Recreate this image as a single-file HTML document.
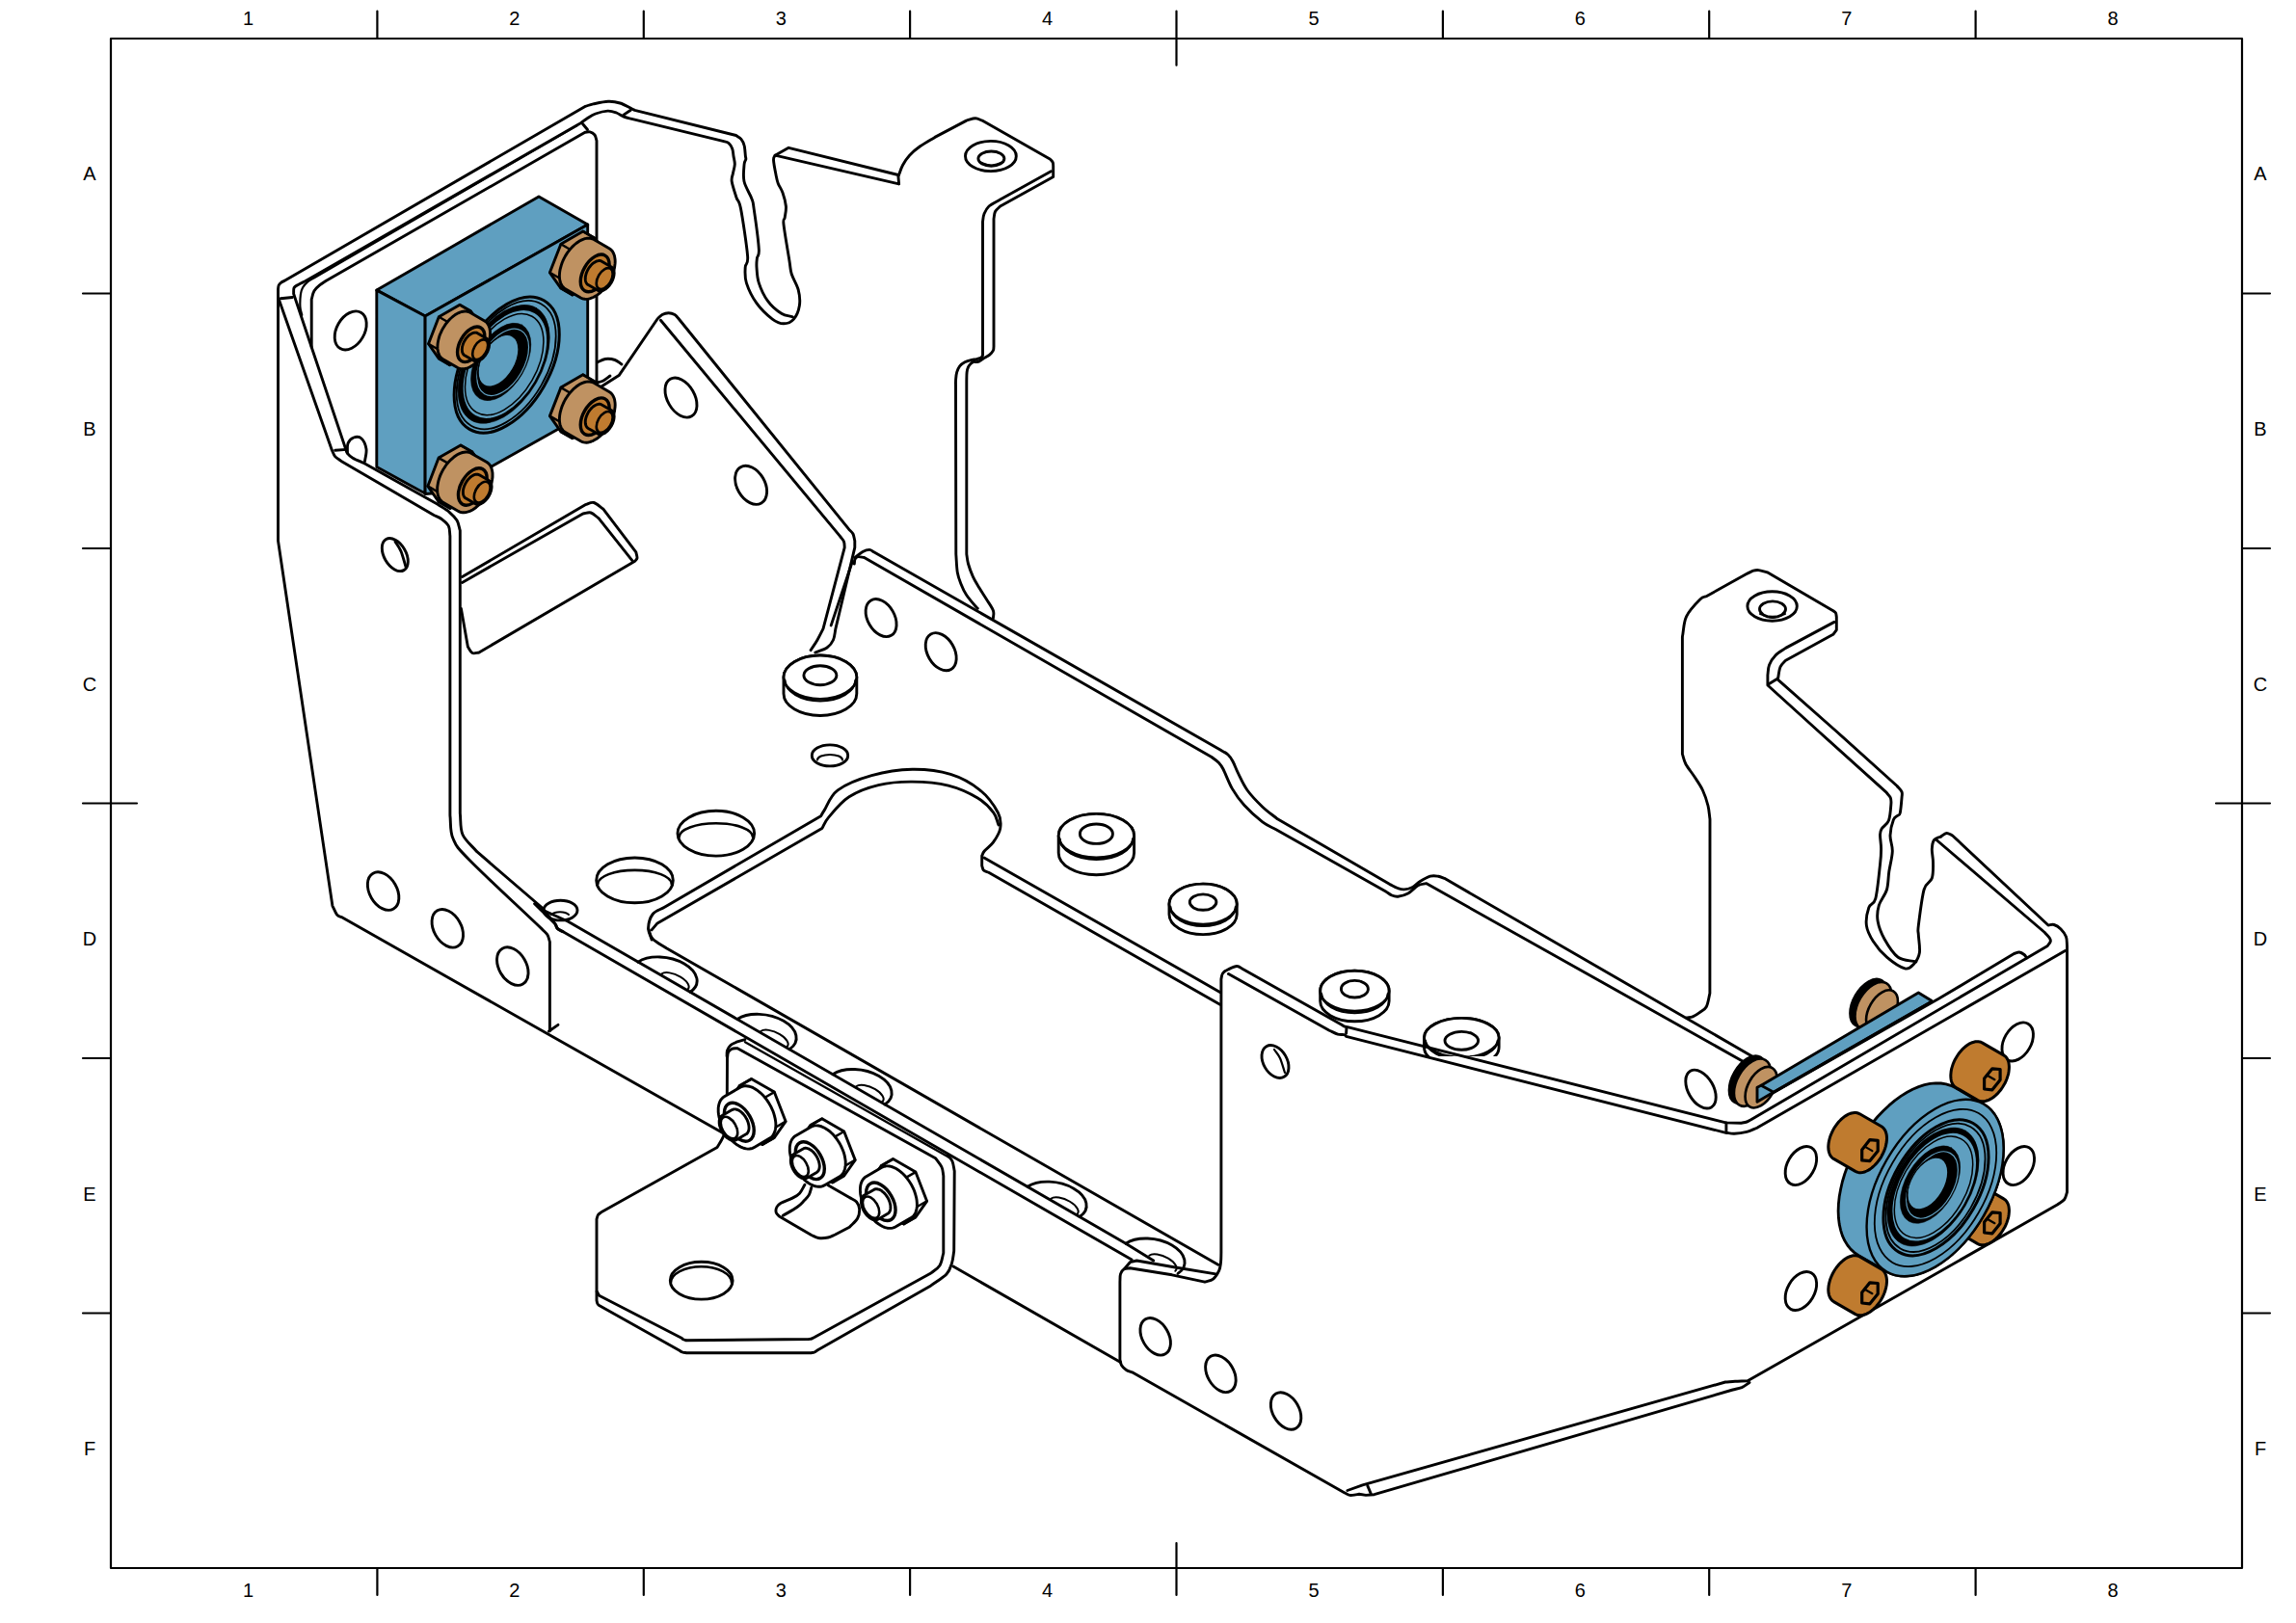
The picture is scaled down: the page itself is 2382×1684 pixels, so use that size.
<!DOCTYPE html>
<html><head><meta charset="utf-8"><title>Drawing</title><style>html,body{margin:0;padding:0;background:#fff;width:2382px;height:1684px;overflow:hidden}svg{display:block}</style></head><body>
<svg xmlns="http://www.w3.org/2000/svg" width="2382" height="1684" viewBox="0 0 2382 1684" stroke-linecap="round" stroke-linejoin="round">
<rect x="115" y="40" width="2211" height="1587" fill="none" stroke="#000" stroke-width="2.2"/>
<path d="M391.4,11.5V40M391.4,1627V1655" stroke="#000" stroke-width="2.2"/>
<path d="M667.8,11.5V40M667.8,1627V1655" stroke="#000" stroke-width="2.2"/>
<path d="M944.1,11.5V40M944.1,1627V1655" stroke="#000" stroke-width="2.2"/>
<path d="M1220.5,11.5V67.7M1220.5,1601V1655" stroke="#000" stroke-width="2.2"/>
<path d="M1496.9,11.5V40M1496.9,1627V1655" stroke="#000" stroke-width="2.2"/>
<path d="M1773.2,11.5V40M1773.2,1627V1655" stroke="#000" stroke-width="2.2"/>
<path d="M2049.6,11.5V40M2049.6,1627V1655" stroke="#000" stroke-width="2.2"/>
<path d="M86,304.5H115M2326,304.5H2355" stroke="#000" stroke-width="2.2"/>
<path d="M86,569.0H115M2326,569.0H2355" stroke="#000" stroke-width="2.2"/>
<path d="M86,833.5H142M2299,833.5H2355" stroke="#000" stroke-width="2.2"/>
<path d="M86,1098.0H115M2326,1098.0H2355" stroke="#000" stroke-width="2.2"/>
<path d="M86,1362.5H115M2326,1362.5H2355" stroke="#000" stroke-width="2.2"/>
<text x="257.5" y="26" font-family="Liberation Sans, sans-serif" font-size="20" text-anchor="middle">1</text>
<text x="257.5" y="1656.5" font-family="Liberation Sans, sans-serif" font-size="20" text-anchor="middle">1</text>
<text x="533.9" y="26" font-family="Liberation Sans, sans-serif" font-size="20" text-anchor="middle">2</text>
<text x="533.9" y="1656.5" font-family="Liberation Sans, sans-serif" font-size="20" text-anchor="middle">2</text>
<text x="810.2" y="26" font-family="Liberation Sans, sans-serif" font-size="20" text-anchor="middle">3</text>
<text x="810.2" y="1656.5" font-family="Liberation Sans, sans-serif" font-size="20" text-anchor="middle">3</text>
<text x="1086.6" y="26" font-family="Liberation Sans, sans-serif" font-size="20" text-anchor="middle">4</text>
<text x="1086.6" y="1656.5" font-family="Liberation Sans, sans-serif" font-size="20" text-anchor="middle">4</text>
<text x="1363.0" y="26" font-family="Liberation Sans, sans-serif" font-size="20" text-anchor="middle">5</text>
<text x="1363.0" y="1656.5" font-family="Liberation Sans, sans-serif" font-size="20" text-anchor="middle">5</text>
<text x="1639.4" y="26" font-family="Liberation Sans, sans-serif" font-size="20" text-anchor="middle">6</text>
<text x="1639.4" y="1656.5" font-family="Liberation Sans, sans-serif" font-size="20" text-anchor="middle">6</text>
<text x="1915.7" y="26" font-family="Liberation Sans, sans-serif" font-size="20" text-anchor="middle">7</text>
<text x="1915.7" y="1656.5" font-family="Liberation Sans, sans-serif" font-size="20" text-anchor="middle">7</text>
<text x="2192.1" y="26" font-family="Liberation Sans, sans-serif" font-size="20" text-anchor="middle">8</text>
<text x="2192.1" y="1656.5" font-family="Liberation Sans, sans-serif" font-size="20" text-anchor="middle">8</text>
<text x="93" y="187.4" font-family="Liberation Sans, sans-serif" font-size="20" text-anchor="middle">A</text>
<text x="2345" y="187.4" font-family="Liberation Sans, sans-serif" font-size="20" text-anchor="middle">A</text>
<text x="93" y="451.9" font-family="Liberation Sans, sans-serif" font-size="20" text-anchor="middle">B</text>
<text x="2345" y="451.9" font-family="Liberation Sans, sans-serif" font-size="20" text-anchor="middle">B</text>
<text x="93" y="716.5" font-family="Liberation Sans, sans-serif" font-size="20" text-anchor="middle">C</text>
<text x="2345" y="716.5" font-family="Liberation Sans, sans-serif" font-size="20" text-anchor="middle">C</text>
<text x="93" y="981.0" font-family="Liberation Sans, sans-serif" font-size="20" text-anchor="middle">D</text>
<text x="2345" y="981.0" font-family="Liberation Sans, sans-serif" font-size="20" text-anchor="middle">D</text>
<text x="93" y="1245.5" font-family="Liberation Sans, sans-serif" font-size="20" text-anchor="middle">E</text>
<text x="2345" y="1245.5" font-family="Liberation Sans, sans-serif" font-size="20" text-anchor="middle">E</text>
<text x="93" y="1510.0" font-family="Liberation Sans, sans-serif" font-size="20" text-anchor="middle">F</text>
<text x="2345" y="1510.0" font-family="Liberation Sans, sans-serif" font-size="20" text-anchor="middle">F</text>
<path d="M749,1175L566,1071.5L354.3,951.6C352.7,950.8 351.2,951.2 349.6,949.2C348,947.2 346.5,942.9 344.9,939.8L288.5,561L288.5,300C288.7,298.7 288.7,297.1 289.2,296C289.7,294.9 290.4,294.1 291.5,293.3C292.6,292.5 294.3,291.8 295.7,291L607.4,110.3C610.1,109.5 611.6,108.7 615.5,107.9C619.4,107.1 626.3,105.5 630.9,105.3C635.5,105.1 639.1,105.7 643.3,107C647.5,108.3 651.9,111.1 656.2,113.2L658.5,114.4L763.6,140.5C765.4,141.8 767.5,142.7 768.9,144.4C770.3,146.1 771.4,148 772.1,150.9C772.9,153.8 773.1,159.6 773.4,162C773.7,164.4 774,163.9 773.8,165.3C773.6,166.7 772.4,166.7 772.1,170.5C771.8,174.3 770.7,182.4 772,188.3C773.3,194.2 778.1,201.2 779.8,205.9C781.5,210.6 780.9,207.6 782.1,216.4C783.4,225.2 786.8,249.9 787.3,258.5C787.8,267.1 785.8,264.8 785.4,267.9C785,271 784.7,273 785,277.3C785.3,281.6 785.4,287.8 787.3,293.6C789.2,299.5 792.7,307.1 796.6,312.4C800.5,317.7 806.4,322.6 810.7,325.3C815,328 818.5,327.6 822.4,328.8" fill="none" stroke="#000" stroke-width="2.9"/>
<path d="M584.2,966.8C582.2,965.7 579.7,964.8 578.3,963.4C576.9,962 578.5,962 575.8,958.4C573.1,954.8 566.6,947.1 562,941.5L494.8,883.7C489.9,877.8 482.9,872.6 480,866C477.1,859.4 478.2,851.3 477.3,843.9L477.3,550.5C476.2,547 476,543.3 474.1,540.1C472.2,536.9 469.4,534.1 466.1,531.3C462.8,528.5 458.1,526 454.1,523.3L378,480.8C374,478.9 368.9,476.9 366,475.2C363.1,473.5 361.6,471.9 360.4,470.4C359.2,468.9 359.3,467.6 358.8,466.2L304.6,304.8C304.8,302.7 304.3,300.1 305.1,298.5C305.9,296.9 307.4,296.5 309.3,295.4C311.2,294.3 314.2,293 316.6,291.8L601.1,128.5C603.7,126.7 606.2,124.8 609,123C611.8,121.2 614.3,119.3 617.9,118C621.5,116.7 626.8,115.3 630.4,115.1C634,114.9 636.8,116 639.5,117C642.2,118 644.4,119.9 646.7,120.9C649,121.9 651.1,122.2 653.3,122.9L749.9,146.4C751.9,147 754.2,147 755.8,148.3C757.4,149.6 758.8,151.9 759.7,154.2C760.6,156.5 760.6,159.3 761,162C761.4,164.7 762.4,167.5 762.3,170.5C762.2,173.5 760.9,177 760.4,180C759.9,183 758.6,184.2 759.2,188.3C759.8,192.4 762.4,200 763.9,204.7C765.4,209.4 766.5,206.2 768.5,216.4C770.5,226.6 774.8,255.5 775.6,265.6C776.4,275.8 773.4,272.6 773.2,277.3C773,282 772.4,287.4 774.4,293.6C776.4,299.8 780.5,308.4 785,314.7C789.5,320.9 796.6,327.6 801.3,331.1C806,334.6 809.3,335.8 813,335.8C816.7,335.8 820.8,334.2 823.5,331.1C826.2,328 828.6,322.1 829.4,317C830.2,311.9 829.6,306.1 828.2,300.7C826.8,295.2 822.8,289.4 821.2,284.3C819.7,279.2 820.3,278.8 818.9,270.2C817.5,261.6 813.8,240.2 813,232.8C812.2,225.4 813.8,228.9 814.2,225.8C814.6,222.7 815.8,218.3 815.4,214C815,209.7 813.4,204 812,200C810.6,196 808.4,193.4 807.2,190.2C806,187 805.7,184.9 804.9,180.8C804.1,176.8 802.6,169.2 802.5,165.9C802.4,162.6 803.6,162.8 804.1,161.2L932.6,190.9" fill="none" stroke="#000" stroke-width="2.9"/>
<path d="M313.3,327C312.7,324.1 311.6,322 311.4,318.4C311.2,314.8 311.5,308.6 311.9,305.3C312.3,302 312.8,300.7 314,298.5C315.2,296.3 317.2,294 319.2,292.3C321.2,290.6 323.7,289.6 326,288.2L599,130" fill="none" stroke="#000" stroke-width="2.2"/>
<path d="M646.7,119.4L654.3,114.2" fill="none" stroke="#000" stroke-width="2.9"/>
<path d="M804.1,161.2L818.2,153.3L931.8,181.5L932.6,190.9" fill="none" stroke="#000" stroke-width="2.9"/>
<path d="M289.9,312.2L344.4,467.2C345.5,469.3 346,471.7 347.6,473.6C349.2,475.5 351.9,476.8 354,478.4L450.1,534.5C452.8,535.8 455.6,536.6 458.1,538.5C460.6,540.4 463.8,542.8 465.3,545.7C466.8,548.6 466.4,552.6 466.9,556.1L466.9,846C467.9,854 466.5,862.2 470,870C473.5,877.8 472.2,877.3 487.7,893C503.1,908.7 537.7,940.6 562.7,964.4C564.5,966.3 566.7,967.9 568,970C569.3,972.1 569.6,974.9 570.4,977.3L570.4,1069.8" fill="none" stroke="#000" stroke-width="2.9"/>
<path d="M347.6,467.2L359.6,466.4" fill="none" stroke="#000" stroke-width="2.9"/>
<path d="M323.2,360L323.2,310.6C324.1,307.6 324.5,304.2 326,301.7C327.5,299.2 330.3,297.1 332.3,295.4C334.3,293.7 336.1,292.8 338,291.5L607,137.3C608.7,137.1 610.3,136.4 612,136.8C613.7,137.2 615.8,138.5 617,140C618.2,141.5 618.3,144 619,146L619,396.6" fill="none" stroke="#000" stroke-width="2.9"/>
<path d="M604.5,128.5L609.5,134.5" fill="none" stroke="#000" stroke-width="2.9"/>
<path d="M291.1,309.7L303.4,308.5" fill="none" stroke="#000" stroke-width="2.9"/>
<path d="M569.4,1070L579,1063.4" fill="none" stroke="#000" stroke-width="2.9"/>
<ellipse cx="397.6" cy="924.6" rx="21.29" ry="14.18" transform="rotate(60 397.6 924.6)" fill="none" stroke="#000" stroke-width="2.9"/>
<ellipse cx="464.3" cy="963.3" rx="21.29" ry="14.18" transform="rotate(60 464.3 963.3)" fill="none" stroke="#000" stroke-width="2.9"/>
<ellipse cx="531.8" cy="1002.6" rx="21.29" ry="14.18" transform="rotate(60 531.8 1002.6)" fill="none" stroke="#000" stroke-width="2.9"/>
<ellipse cx="409.8" cy="575.6" rx="18.50" ry="11.35" transform="rotate(60 409.8 575.6)" fill="none" stroke="#000" stroke-width="2.9"/>
<path d="M410,562C412,565.3 414.2,567.7 416,572C417.8,576.3 419.3,582.7 421,588" fill="none" stroke="#000" stroke-width="2.9"/>
<ellipse cx="363.7" cy="342.9" rx="21.54" ry="14.44" transform="rotate(-60 363.7 342.9)" fill="none" stroke="#000" stroke-width="2.9"/>
<path d="M360.4,470C360.6,466.7 359.9,462.7 361,460C362.1,457.3 364.7,454.8 367,454C369.3,453.2 372.8,453 375,455C377.2,457 379.4,462.1 380,466C380.6,469.9 379,474.3 378.5,478.5" fill="none" stroke="#000" stroke-width="2.9"/>
<path d="M479.5,598.6L607.2,523.7C610.1,523 612.9,520.7 616,521.5C619.1,522.3 622.7,526 626,528.3L659.8,572.8C660.2,574.9 661.2,577.4 661,579C660.8,580.6 659.5,581.1 658.7,582.2L497,677C494.7,677.2 491.9,678.5 490,677.5C488.1,676.5 486.9,673.3 485.4,671.2L478.4,631.4" fill="none" stroke="#000" stroke-width="2.9"/>
<path d="M479.5,604.4L604.8,533C607.5,532.7 610.3,531.2 613,532C615.7,532.8 618.3,535.8 621,537.7L656.3,582.2" fill="none" stroke="#000" stroke-width="2.9"/>
<path d="M932.2,182.3C933.7,178.6 934.7,174.8 936.6,171.3C938.5,167.8 940.6,164.4 943.6,161.2C946.6,157.9 950.2,154.9 954.6,151.8C959,148.7 964.8,145.5 969.9,142.4L1002.6,125.1C1005.7,124.3 1009.3,122.8 1012,122.8C1014.7,122.8 1016.7,124.3 1019,125.1L1089.2,164.9C1090.2,166.1 1091.6,167.3 1092.2,168.5C1092.8,169.7 1092.5,170.8 1092.7,172L1092.7,183.6L1037.7,214C1036,215.8 1033.6,217.3 1032.5,219.5C1031.4,221.7 1031.5,224.5 1031,227L1031,359.6C1030.8,361 1031.1,362.3 1030.4,363.7C1029.7,365.1 1028.2,366.8 1026.7,368.1C1025.2,369.4 1022.7,370.4 1021.2,371.4C1019.7,372.4 1018.7,373.3 1017.5,374C1016.3,374.7 1015.1,375.2 1013.8,375.5C1012.5,375.8 1010.8,375.2 1009.7,375.5C1008.7,375.8 1008.4,376.1 1007.5,377C1006.6,377.9 1005.3,379.2 1004.6,380.7C1003.9,382.2 1003.4,383.8 1003.1,386.2C1002.8,388.6 1002.9,392.1 1002.8,395L1002.8,575C1003.4,578.3 1003.4,581.1 1004.5,585C1005.6,588.9 1007.5,594.1 1009.4,598.3C1011.3,602.5 1013.7,606.1 1016,610C1018.3,613.9 1021,617.8 1023.4,621.7C1025.8,625.6 1029.2,630.1 1030.4,633.4C1031.6,636.7 1030.4,638.9 1030.4,641.6" fill="none" stroke="#000" stroke-width="2.9"/>
<path d="M1090.4,177.8L1037.7,207C1033.8,209.3 1028.8,211.5 1026,214C1023.2,216.5 1022.1,219.3 1021,222C1019.9,224.7 1020,227.3 1019.5,230L1019.5,368.8C1018.8,369.7 1018.8,370.7 1017.5,371.4C1016.2,372.1 1013.5,372.6 1012,372.9C1010.5,373.2 1010.1,372.8 1008.3,373.3C1006.4,373.8 1003,374.7 1000.9,375.8C998.8,376.9 997.1,378.2 995.7,379.9C994.3,381.6 993.4,383.9 992.7,386.2C992,388.5 991.8,391.3 991.6,393.6C991.4,395.9 991.5,397.9 991.5,400L991.8,575C992.3,581.3 992.4,588.7 993.3,593.9C994.2,599.1 995.5,602.1 997,606C998.5,609.9 1000.1,613.5 1002.6,617.3C1005.1,621.1 1010,626.7 1012,629C1014,631.3 1013.5,630.5 1014.3,631.3" fill="none" stroke="#000" stroke-width="2.9"/>
<ellipse cx="1027.9" cy="162" rx="26.40" ry="15.60" fill="none" stroke="#000" stroke-width="2.9"/>
<ellipse cx="1028.4" cy="164.6" rx="13.50" ry="7.60" fill="none" stroke="#000" stroke-width="2.9"/>
<path d="M1016,168C1020,169.2 1023.8,171.5 1028,171.5C1032.2,171.5 1036.7,169.2 1041,168" fill="none" stroke="#000" stroke-width="2"/>
<path d="M624,401L642.1,389.6L682,331C683.7,329.5 685.1,327.5 687,326.5C688.9,325.5 691.4,324.8 693.6,324.8C695.8,324.8 698.4,325.6 700,326.5C701.6,327.4 702.3,328.8 703.5,330L880.9,549.4C882.3,550.9 884,552 885,554C886,556 886.2,558.7 886.8,561.1L886.8,568.1L866.9,652.4C866.1,656.3 866,660.7 864.5,664C863,667.3 861.1,669.8 858,672C854.9,674.2 849.9,675.3 845.8,677" fill="none" stroke="#000" stroke-width="2.9"/>
<path d="M685.4,332.3L871.5,556.4C872.8,558.3 874.7,560 875.5,562C876.3,564 876,566.1 876.2,568.1L854,652.4C852,656.3 850.1,660.3 848,664C845.9,667.7 843.4,671.1 841.1,674.6" fill="none" stroke="#000" stroke-width="2.9"/>
<path d="M884.4,582.2L862.2,648.9" fill="none" stroke="#000" stroke-width="2.9"/>
<ellipse cx="706.5" cy="412.6" rx="22.23" ry="14.08" transform="rotate(60 706.5 412.6)" fill="none" stroke="#000" stroke-width="2.9"/>
<ellipse cx="779.1" cy="503.3" rx="21.54" ry="14.44" transform="rotate(60 779.1 503.3)" fill="none" stroke="#000" stroke-width="2.9"/>
<path d="M619.5,376C622.3,374.8 624.9,372.9 628,372.5C631.1,372.1 635.2,372.6 638,373.5C640.8,374.4 642.7,376.5 645,378" fill="none" stroke="#000" stroke-width="2.9"/>
<path d="M619.5,397C621.7,396.3 623.8,396.2 626,395C628.2,393.8 630.7,391.7 633,390" fill="none" stroke="#000" stroke-width="2.9"/>
<path d="M886.8,578.6C889.5,576.6 892.5,573.9 895,572.5C897.5,571.1 900.1,570.4 902,570.4C903.9,570.4 905.1,572 906.6,572.8L1266,778C1268.7,779.7 1271.8,781 1274,783C1276.2,785 1277.2,786.7 1279,790C1280.8,793.3 1282.2,797.7 1284.7,802.7C1287.2,807.7 1289.9,814.2 1294.1,820C1298.3,825.8 1304.6,832.2 1309.8,837.2C1315,842.2 1320.2,845.6 1325.4,849.8L1441.9,917.6C1444.6,918.9 1447.5,920.6 1450,921.5C1452.5,922.4 1454.1,923 1456.6,922.9C1459.1,922.8 1462.2,922.2 1465,920.8C1467.8,919.4 1470.2,916.4 1473.3,914.5C1476.4,912.6 1480.6,910.1 1483.8,909.2C1487,908.3 1489.8,908.9 1492.2,909.2C1494.7,909.6 1496.4,910.6 1498.5,911.3L1819,1096.7" fill="none" stroke="#000" stroke-width="2.9"/>
<path d="M886.3,585C886.6,583.3 886.4,581.2 887.1,580C887.8,578.8 888.7,577.9 890.3,577.6C891.9,577.4 894.5,578.2 896.6,578.5L1257,785.5C1259.3,787.3 1262,788.9 1264,791C1266,793.1 1266.6,793.4 1269,798C1271.4,802.6 1274.8,812.1 1278.4,818.4C1282.1,824.7 1285.7,829.9 1290.9,835.6C1296.1,841.4 1304.3,848.7 1309.8,852.9C1315.3,857.1 1319.2,858.1 1323.9,860.7L1437.7,925C1439.8,926.3 1441.9,928.1 1444,929C1446.1,929.9 1447.5,930.5 1450.3,930.2C1453.1,929.9 1457.3,928.9 1460.8,927C1464.3,925.1 1468.1,920.4 1471.2,918.7C1474.3,917 1476.8,917.3 1479.6,916.6L1807.7,1100.9" fill="none" stroke="#000" stroke-width="2.9"/>
<ellipse cx="914.1" cy="641.1" rx="21.03" ry="13.92" transform="rotate(60 914.1 641.1)" fill="none" stroke="#000" stroke-width="2.9"/>
<ellipse cx="976.2" cy="676.2" rx="21.03" ry="13.92" transform="rotate(60 976.2 676.2)" fill="none" stroke="#000" stroke-width="2.9"/>
<path d="M676.1,975C674.9,970.9 672.4,967 672.6,962.6C672.8,958.2 674.5,952 677.2,948.5C679.9,945 685.1,943.8 689,941.5L851.6,846.7C852.8,844.8 852.2,845.4 855.1,840.9C858,836.4 861,825.8 869.2,819.8C877.4,813.8 891.4,808.2 904.3,804.6C917.2,801 932.8,798.5 946.4,798.3C960,798.1 974.5,799.8 986.2,803.4C997.9,807 1008.5,813.2 1016.7,819.8C1024.9,826.4 1031.9,836.6 1035.4,843.2C1038.9,849.8 1038.5,854.5 1037.7,859.6C1036.9,864.7 1033.4,869.7 1030.7,873.6C1028,877.5 1023.3,880.6 1021.3,883C1019.3,885.4 1019.6,886.3 1018.7,888L1018.7,898.3C1019.3,899.9 1019.3,901.8 1020.5,903C1021.7,904.2 1024,904.5 1025.7,905.3L1265.7,1042.3" fill="none" stroke="#000" stroke-width="2.9"/>
<path d="M676.1,964.9L682,957.9L852.8,859.6C855.1,855.7 855.1,853.4 859.8,847.9C864.5,842.4 872.3,832.3 880.9,826.8C889.5,821.2 900.4,817.2 911.3,814.6C922.2,812 934.3,811 946.4,811.1C958.5,811.2 972.6,812.3 983.9,815.1C995.2,817.9 1006.5,823.3 1014.3,828C1022.1,832.7 1027.1,838.5 1030.7,843.2C1034.3,847.9 1034.2,851.7 1036,856" fill="none" stroke="#000" stroke-width="2.9"/>
<path d="M1021,890L1265.7,1029.4" fill="none" stroke="#000" stroke-width="2.9"/>
<path d="M672.8,964C674.3,967.4 674.1,971 677.2,974.3C680.3,977.6 686.6,980.6 691.3,983.7L1263.8,1312.3" fill="none" stroke="#000" stroke-width="2.9"/>
<ellipse cx="658.5" cy="913.4" rx="39.80" ry="23.40" fill="none" stroke="#000" stroke-width="2.9"/>
<path d="M620.2,917.4A38.3,14.5 0 0 1 696.8,917.4" fill="none" stroke="#000" stroke-width="2.6"/>
<ellipse cx="742.8" cy="864.7" rx="39.80" ry="23.40" fill="none" stroke="#000" stroke-width="2.9"/>
<path d="M704.5,868.7A38.3,14.5 0 0 1 781.1,868.7" fill="none" stroke="#000" stroke-width="2.6"/>
<ellipse cx="861" cy="783.9" rx="18.70" ry="11.00" fill="none" stroke="#000" stroke-width="2.9"/>
<path d="M848.0,788.5A13,5.5 0 0 1 874.0,788.5" fill="none" stroke="#000" stroke-width="2.2"/>
<ellipse cx="581.5" cy="944.6" rx="17.50" ry="10.30" fill="none" stroke="#000" stroke-width="2.9"/>
<path d="M572.0,949.0A10,5 0 0 1 590.0,949.0" fill="none" stroke="#000" stroke-width="2"/>
<path d="M562,943.7L589.1,956L1167.1,1289.7L1196.7,1308" fill="none" stroke="#000" stroke-width="2.9"/>
<path d="M554.6,937.7L575.8,958.4C576.6,960.1 576.9,962 578.3,963.4C579.7,964.8 582.2,965.7 584.2,966.8L1174.1,1307.1" fill="none" stroke="#000" stroke-width="2.9"/>
<path d="M662.0,998.1A29,17 10 0 1 716.0,1029.3" fill="none" stroke="#000" stroke-width="2.9"/>
<path d="M686.3,1010.6A13,6 25 0 1 713.3,1026.7" fill="none" stroke="#000" stroke-width="2"/>
<path d="M765.0,1057.5A29,17 10 0 1 819.0,1088.7" fill="none" stroke="#000" stroke-width="2.9"/>
<path d="M789.3,1070.1A13,6 25 0 1 816.3,1086.2" fill="none" stroke="#000" stroke-width="2"/>
<path d="M864.0,1114.7A29,17 10 0 1 918.0,1145.9" fill="none" stroke="#000" stroke-width="2.9"/>
<path d="M888.3,1127.2A13,6 25 0 1 915.3,1143.3" fill="none" stroke="#000" stroke-width="2"/>
<path d="M1066.0,1231.3A29,17 10 0 1 1120.0,1262.5" fill="none" stroke="#000" stroke-width="2.9"/>
<path d="M1090.3,1243.8A13,6 25 0 1 1117.3,1259.9" fill="none" stroke="#000" stroke-width="2"/>
<path d="M1168.0,1290.2A29,17 10 0 1 1222.0,1321.4" fill="none" stroke="#000" stroke-width="2.9"/>
<path d="M1192.3,1302.7A13,6 25 0 1 1219.3,1318.8" fill="none" stroke="#000" stroke-width="2"/>
<path d="M813.0,702.7L813.0,719.8A37.9,22.7 0 0 0 888.8,719.8L888.8,702.7A37.9,22.7 0 0 0 813.0,702.7Z" fill="#fff" stroke="#000" stroke-width="2.9"/>
<ellipse cx="850.9" cy="702.7" rx="37.90" ry="22.70" fill="#fff" stroke="#000" stroke-width="2.9"/>
<path d="M814.5,705.7A36.4,21.7 0 0 0 887.3,705.7" fill="none" stroke="#000" stroke-width="2"/>
<ellipse cx="850.9" cy="700.7" rx="17.00" ry="10.00" fill="none" stroke="#000" stroke-width="2.9"/>
<path d="M1098.2,867.2L1098.2,884.9A39.2,22.8 0 0 0 1176.6,884.9L1176.6,867.2A39.2,22.8 0 0 0 1098.2,867.2Z" fill="#fff" stroke="#000" stroke-width="2.9"/>
<ellipse cx="1137.4" cy="867.2" rx="39.20" ry="22.80" fill="#fff" stroke="#000" stroke-width="2.9"/>
<path d="M1099.7,870.2A37.7,21.8 0 0 0 1175.1,870.2" fill="none" stroke="#000" stroke-width="2"/>
<ellipse cx="1137.4" cy="865.2" rx="17.00" ry="10.20" fill="none" stroke="#000" stroke-width="2.9"/>
<path d="M1213.0,938.1L1213.0,948.7A35.1,21.0 0 0 0 1283.2,948.7L1283.2,938.1A35.1,21.0 0 0 0 1213.0,938.1Z" fill="#fff" stroke="#000" stroke-width="2.9"/>
<ellipse cx="1248.1" cy="938.1" rx="35.10" ry="21.00" fill="#fff" stroke="#000" stroke-width="2.9"/>
<path d="M1214.5,941.1A33.6,20.0 0 0 0 1281.7,941.1" fill="none" stroke="#000" stroke-width="2"/>
<ellipse cx="1248.1" cy="936.1" rx="13.80" ry="8.20" fill="none" stroke="#000" stroke-width="2.9"/>
<path d="M1369.7,1028.2L1369.7,1038.8A35.7,21.0 0 0 0 1441.1,1038.8L1441.1,1028.2A35.7,21.0 0 0 0 1369.7,1028.2Z" fill="#fff" stroke="#000" stroke-width="2.9"/>
<ellipse cx="1405.4" cy="1028.2" rx="35.70" ry="21.00" fill="#fff" stroke="#000" stroke-width="2.9"/>
<path d="M1371.2,1031.2A34.2,20.0 0 0 0 1439.6,1031.2" fill="none" stroke="#000" stroke-width="2"/>
<ellipse cx="1405.4" cy="1026.2" rx="14.00" ry="8.80" fill="none" stroke="#000" stroke-width="2.9"/>
<clipPath id="cb5"><path d="M1400,1000L1800,1000L1800,1096L1400,1096Z"/></clipPath>
<g clip-path="url(#cb5)">
<path d="M1477.5,1076.8L1477.5,1086.8A38.8,20.4 0 0 0 1555.1,1086.8L1555.1,1076.8A38.8,20.4 0 0 0 1477.5,1076.8Z" fill="#fff" stroke="#000" stroke-width="2.9"/>
<ellipse cx="1516.3" cy="1076.8" rx="38.80" ry="20.40" fill="#fff" stroke="#000" stroke-width="2.9"/>
<path d="M1479.0,1079.8A37.3,19.4 0 0 0 1553.6,1079.8" fill="none" stroke="#000" stroke-width="2"/>
<ellipse cx="1516.3" cy="1079.8" rx="17.30" ry="9.40" fill="none" stroke="#000" stroke-width="2.9"/>
</g>
<path d="M1749.9,1055.9C1752,1055.5 1754,1055.7 1756.2,1054.8C1758.4,1053.9 1760.9,1052.3 1763.2,1050.6C1765.5,1048.9 1768.4,1048 1770.2,1044.7C1772,1041.4 1772.7,1035.4 1773.9,1030.7L1774,850C1773.3,845.3 1773.2,841 1772,836C1770.8,831 1768.8,825 1766.5,820C1764.2,815 1760.9,810.5 1758,806C1755.1,801.5 1751.1,796.9 1749,793C1746.9,789.1 1746.6,785.9 1745.4,782.4L1745.4,660.7C1746.8,653.7 1746.5,646.1 1749.6,639.6C1752.6,633.1 1760.2,625.5 1763.7,622C1767.2,618.5 1768.4,619.7 1770.7,618.5L1812.8,595.1C1814.9,594.1 1817,592.8 1819,592.2C1821,591.6 1822,591.3 1824.5,591.6C1827,591.9 1830.8,593.2 1833.9,594L1901.8,633.7C1902.7,634.5 1903.9,635 1904.5,636C1905.1,637 1905,638.7 1905.3,640L1905.3,653.6L1901.8,658.3L1852.6,685.2C1850.7,687.5 1848.4,688.7 1847,692C1845.6,695.3 1845.3,700.7 1844.4,705.1L1906.5,760L1968.1,815.5C1969.7,817.5 1972.2,819.6 1973,821.6C1973.8,823.6 1973.3,824.1 1973,827.8C1972.7,831.5 1971.9,840.7 1971.2,843.8C1970.5,846.9 1969.8,845.2 1968.7,846.3C1967.6,847.4 1965.7,847.2 1964.4,850.6C1963.1,854 1961.2,861.4 1961,866.8C1960.8,872.2 1963.5,877 1963.3,883.2C1963.1,889.5 1960.8,897.7 1959.8,904.3C1958.8,910.9 1959.2,917.1 1957.5,923C1955.8,928.9 1950.9,933.9 1949.3,939.4C1947.7,944.9 1947.1,949.9 1948.1,955.8C1949.1,961.6 1951.6,968.3 1955.1,974.5C1958.6,980.7 1963.7,989.3 1969.2,993.2C1974.7,997.1 1981.7,996.3 1987.9,997.9" fill="none" stroke="#000" stroke-width="2.9"/>
<path d="M1903,645.4L1852.6,672.4C1849.1,674.9 1844.8,677.1 1842,680C1839.2,682.9 1836.8,686.6 1835.5,690C1834.2,693.4 1834.4,697 1833.9,700.5L1833.9,711L1888,760L1957,822.2C1958.4,824.1 1960.5,825.8 1961.3,827.8C1962.1,829.8 1962.2,830.1 1961.9,834C1961.6,837.9 1961.1,846.9 1959.5,851.2C1957.9,855.5 1953.6,857.5 1952.1,860C1950.6,862.5 1950.6,862.5 1950.5,866C1950.4,869.5 1951.6,875.7 1951.6,880.9C1951.6,886.1 1951.5,888.6 1950.5,897.2C1949.5,905.8 1947.8,925 1945.8,932.4C1943.8,939.8 1940.4,937 1938.8,941.7C1937.2,946.4 1935.6,954.5 1936.4,960.4C1937.2,966.2 1939.9,971.3 1943.4,976.8C1946.9,982.3 1952,988.5 1957.5,993.2C1963,997.9 1971.5,1003.7 1976.2,1004.9C1980.9,1006.1 1983.1,1002.9 1985.6,1000.2C1988.1,997.5 1990.6,993.6 1991.4,988.5C1992.2,983.4 1990.5,974.5 1990.3,969.8C1990.1,965.1 1989.3,968.2 1990.3,960.4C1991.3,952.6 1993.8,931.2 1996.1,923C1998.4,914.8 2002.7,916 2004.3,911.3C2005.9,906.6 2005.5,900 2005.5,894.9C2005.5,889.8 2004.1,884.8 2004.3,880.9C2004.5,877 2005,873.6 2006.6,871.5C2008.2,869.4 2011.3,869.2 2013.7,868" fill="none" stroke="#000" stroke-width="2.9"/>
<path d="M1835,709.8L1844.4,704" fill="none" stroke="#000" stroke-width="2.9"/>
<ellipse cx="1838.6" cy="629" rx="25.70" ry="15.20" fill="none" stroke="#000" stroke-width="2.9"/>
<ellipse cx="1839" cy="632.1" rx="13.50" ry="8.20" fill="none" stroke="#000" stroke-width="2.9"/>
<path d="M1826,637C1830.3,638.3 1834.7,641 1839,641C1843.3,641 1847.7,638.3 1852,637" fill="none" stroke="#000" stroke-width="2"/>
<path d="M2009,871.5L2121.3,967.5C2123,969.5 2125.5,971.9 2126.5,973.5C2127.5,975.1 2127.6,975.7 2127.2,977C2126.8,978.3 2125.2,980 2124.2,981.5L1816.6,1161.8C1815.2,1162.5 1814.1,1163.4 1812.3,1164C1810.5,1164.6 1807.9,1164.9 1805.7,1165.3L1790.5,1164.9L1397.9,1065.7C1396.7,1065.4 1395.3,1065.2 1394.4,1064.8C1393.5,1064.4 1393,1063.9 1392.3,1063.5L1290.3,1006C1287.9,1004.8 1285.9,1002.5 1283.2,1002.5C1280.5,1002.5 1276.4,1004.8 1273.9,1006C1271.5,1007.2 1269.7,1008.3 1268.5,1010C1267.3,1011.7 1267.4,1014 1266.9,1016L1266.9,1300C1266.8,1303.3 1266.9,1306.9 1266.5,1310C1266.1,1313.1 1266,1315.6 1264.7,1318.4C1263.4,1321.2 1261.1,1325.1 1258.6,1327.1C1256.1,1329.1 1252.8,1329.2 1249.9,1330.2L1215.9,1322.8L1172.3,1315.8C1170.3,1316.1 1167.8,1315.7 1166.2,1316.7C1164.6,1317.7 1163.2,1319.7 1162.5,1321.9C1161.8,1324.1 1162.1,1327.3 1161.9,1330L1161.9,1410.5C1162.4,1412.5 1162.4,1414.7 1163.5,1416.5C1164.6,1418.3 1166.7,1420.3 1168.5,1421.5C1170.3,1422.7 1172.5,1423 1174.5,1423.8L1393.3,1548C1395.2,1549 1397.4,1550.4 1399,1551C1400.6,1551.6 1401.3,1551.5 1403.1,1551.4C1404.9,1551.3 1407.7,1550.7 1410,1550.3L1417,1551.4L1425.7,1550.7L1797.7,1442C1800.8,1441.2 1804.1,1440.8 1807,1439.6C1809.9,1438.3 1812.3,1436.2 1815,1434.5" fill="none" stroke="#000" stroke-width="2.9"/>
<path d="M1167,1316L1172.3,1309.7L1179.3,1308L1219.4,1315L1261.2,1321.9" fill="none" stroke="#000" stroke-width="2.9"/>
<path d="M1274.5,1010.5L1379.2,1069.2C1382.1,1070.5 1385.4,1072.4 1387.9,1073.1C1390.4,1073.8 1393,1073.2 1394.4,1073.6C1395.9,1074 1395.9,1074.7 1396.6,1075.3L1790.5,1175.3C1793.4,1175.6 1795.6,1176.3 1799.2,1176.2C1802.8,1176.1 1808.3,1175.4 1812.3,1174.4C1816.3,1173.4 1819.6,1171.5 1823.2,1170.1L2142.5,986.5" fill="none" stroke="#000" stroke-width="2.9"/>
<path d="M1397,1066.1L1396.6,1072.2" fill="none" stroke="#000" stroke-width="2.9"/>
<path d="M1790.9,1165L1790.9,1175" fill="none" stroke="#000" stroke-width="2.9"/>
<path d="M1397.9,1546.5L1413.6,1540.9L1790,1434C1793.3,1433.8 1796.2,1433.5 1800,1433.3C1803.8,1433.1 1808.7,1433 1813.1,1432.8L2134.3,1250.1C2136.8,1248.2 2140,1246.7 2141.7,1244.5C2143.4,1242.3 2143.6,1239.5 2144.5,1237L2144.5,981.5C2144.2,978.3 2144.6,974.9 2143.5,972C2142.4,969.1 2140.1,966.1 2138,964C2135.9,961.9 2133.2,960.2 2131,959.5C2128.8,958.8 2127,959.8 2125,960L2025.4,866.8C2023.4,866 2021.5,864.3 2019.5,864.5C2017.5,864.7 2015.6,866.8 2013.7,868" fill="none" stroke="#000" stroke-width="2.9"/>
<path d="M1418.8,1541.6L1422.3,1550" fill="none" stroke="#000" stroke-width="2.9"/>
<path d="M1823,1143.2L2011.7,1036.1L2089.5,989.5C2091.3,989 2093.2,987.8 2095,988C2096.8,988.2 2098.7,989.5 2100,990.5C2101.3,991.5 2101.8,992.8 2102.7,993.9" fill="none" stroke="#000" stroke-width="2.9"/>
<path d="M989,1314L1162.6,1413.4" fill="none" stroke="#000" stroke-width="2.9"/>
<ellipse cx="1323" cy="1101.5" rx="18.32" ry="12.23" transform="rotate(60 1323 1101.5)" fill="none" stroke="#000" stroke-width="2.9"/>
<path d="M1322,1089C1324,1092 1326.2,1094 1328,1098C1329.8,1102 1331.3,1108 1333,1113" fill="none" stroke="#000" stroke-width="2.2"/>
<ellipse cx="1764.5" cy="1130.1" rx="21.70" ry="13.10" transform="rotate(60 1764.5 1130.1)" fill="none" stroke="#000" stroke-width="2.9"/>
<ellipse cx="1198.7" cy="1386.8" rx="20.78" ry="13.67" transform="rotate(60 1198.7 1386.8)" fill="none" stroke="#000" stroke-width="2.9"/>
<ellipse cx="1266.4" cy="1425.3" rx="20.78" ry="13.67" transform="rotate(60 1266.4 1425.3)" fill="none" stroke="#000" stroke-width="2.9"/>
<ellipse cx="1334.1" cy="1464" rx="20.78" ry="13.67" transform="rotate(60 1334.1 1464)" fill="none" stroke="#000" stroke-width="2.9"/>
<ellipse cx="2093.2" cy="1080.9" rx="21.63" ry="14.00" transform="rotate(-60 2093.2 1080.9)" fill="none" stroke="#000" stroke-width="2.9"/>
<ellipse cx="1868.4" cy="1209.6" rx="21.63" ry="14.00" transform="rotate(-60 1868.4 1209.6)" fill="none" stroke="#000" stroke-width="2.9"/>
<ellipse cx="2094.3" cy="1209.6" rx="21.63" ry="14.00" transform="rotate(-60 2094.3 1209.6)" fill="none" stroke="#000" stroke-width="2.9"/>
<ellipse cx="1868.4" cy="1339.5" rx="21.63" ry="14.00" transform="rotate(-60 1868.4 1339.5)" fill="none" stroke="#000" stroke-width="2.9"/>
<path d="M752,1176C750.8,1178.3 749.8,1180.6 748.5,1183C747.2,1185.4 745.5,1188 744,1190.5L624.2,1257.5C623,1258.5 621.4,1259.2 620.5,1260.5C619.6,1261.8 619.5,1263.5 619,1265L619,1349.4C619.3,1350.4 619.4,1351.6 619.8,1352.5C620.2,1353.4 621,1353.9 621.6,1354.6L704.5,1401C705.7,1401.7 706.7,1402.5 708,1403C709.3,1403.5 710.8,1403.5 712.2,1403.7L841.6,1403.7C842.7,1403.5 843.9,1403.5 845,1403C846.1,1402.5 847,1401.7 848,1401L965.8,1333.9C971.2,1329.9 978.4,1325.9 982,1322C985.6,1318.1 986.2,1314.6 987.5,1310.6C988.8,1306.6 989,1302.2 989.7,1298L990.2,1215C989.5,1211.7 989.2,1207.8 988,1205C986.8,1202.2 984.7,1200.7 983,1198.5" fill="#fff" stroke="#000" stroke-width="2.9"/>
<path d="M619.2,1340L621.6,1344.2L707,1388.2C707.8,1388.8 708.6,1389.6 709.5,1390C710.4,1390.4 711.3,1390.5 712.2,1390.8L839,1389.5C840,1389.3 841,1389.3 842,1389C843,1388.7 844,1388 845,1387.5L965.8,1321C968.9,1318.3 972.8,1316.5 975,1313C977.2,1309.5 977.5,1304.5 978.8,1300.2L978.8,1220C978.2,1217 978.4,1214 977,1211C975.6,1208 972.7,1204.8 970.5,1201.7L764.7,1087.6C762.8,1087.9 760.5,1087.8 759,1088.5C757.5,1089.2 756.2,1090.4 755.5,1092C754.8,1093.6 754.8,1096 754.5,1098L754.3,1137" fill="none" stroke="#000" stroke-width="2.9"/>
<path d="M754.1,1096C754.2,1094 753.9,1091.9 754.5,1090C755.1,1088.1 756.4,1086 758,1084.5C759.6,1083 762,1082.3 764,1081.2L772.9,1078.6" fill="none" stroke="#000" stroke-width="2.9"/>
<path d="M773,1081.2L984,1200.5" fill="none" stroke="#000" stroke-width="2.4"/>
<ellipse cx="727.7" cy="1328.7" rx="32.40" ry="19.40" fill="none" stroke="#000" stroke-width="2.9"/>
<path d="M696.0,1331.0A30,16 0 0 1 759.0,1331.0" fill="none" stroke="#000" stroke-width="2.4"/>
<path d="M834.9,1229.3C833.1,1232.3 831.6,1235.9 829.5,1238.2C827.4,1240.5 825.4,1241.4 822.1,1243.1C818.8,1244.8 812.5,1246.9 809.8,1248.5C807.1,1250.1 806.5,1250.8 805.8,1252.5C805,1254.2 804.8,1256.8 805.3,1258.4C805.8,1260 807.6,1261 808.8,1262.3L841.8,1281.5C844.3,1282.5 846.3,1284.1 849.2,1284.5C852.1,1284.9 856.2,1284.6 859.1,1284C862,1283.4 864,1282 866.5,1281L881.3,1273.2C884.1,1270.2 887.9,1267.4 889.6,1264.3C891.3,1261.2 891.8,1257.3 891.6,1254.4C891.4,1251.5 890.3,1249 888.6,1247C886.9,1245 883.7,1244.1 881.3,1242.6L859.1,1229.8" fill="none" stroke="#000" stroke-width="2.9"/>
<path d="M841.8,1232.2C841,1234.7 840.6,1237.4 839.4,1239.6C838.2,1241.8 836.5,1243.4 834.4,1245.6C832.3,1247.8 830.7,1249.9 827,1252.5C823.3,1255.1 817.2,1258.4 812.3,1261.3" fill="none" stroke="#000" stroke-width="2.9"/>
<polygon points="755.4,1143.4 767.3,1126.6 779.6,1119.4 803.3,1133.1 815.1,1163.6 803.3,1180.4 791.0,1187.6 767.3,1173.9" fill="#fff" stroke="#000" stroke-width="2.9" stroke-linejoin="round"/>
<path d="M815.1,1163.6L802.8,1170.7" stroke="#000" stroke-width="2.4"/>
<path d="M803.3,1133.1L791.0,1140.2" stroke="#000" stroke-width="2.4"/>
<path d="M779.6,1119.4L767.3,1126.6" stroke="#000" stroke-width="2.4"/>
<path d="M767.8,1136.3L755.4,1143.4" stroke="#000" stroke-width="2.4"/>
<path d="M779.6,1166.8L767.3,1173.9" stroke="#000" stroke-width="2.4"/>
<path d="M803.3,1180.4L791.0,1187.6" stroke="#000" stroke-width="2.4"/>
<polygon points="802.8,1170.7 791.0,1140.2 767.3,1126.6 755.4,1143.4 767.3,1173.9 791.0,1187.6" fill="none" stroke="#000" stroke-width="2.4" stroke-linejoin="round"/>
<polygon points="745.2,1151.7 745.2,1149.6 745.5,1147.6 745.9,1145.7 746.5,1143.9 747.2,1142.3 748.1,1140.9 749.1,1139.7 750.2,1138.6 751.5,1137.7 768.0,1128.2 769.3,1127.5 770.8,1127.1 772.4,1126.8 774.1,1126.8 775.8,1127.0 777.6,1127.3 779.5,1127.9 781.4,1128.7 783.2,1129.7 785.1,1130.9 787.0,1132.3 788.8,1133.8 790.6,1135.5 792.4,1137.3 794.0,1139.3 795.6,1141.4 797.1,1143.6 798.5,1145.9 799.8,1148.2 800.9,1150.6 802.0,1153.0 802.8,1155.4 803.5,1157.9 804.1,1160.3 804.5,1162.6 804.8,1164.9 804.9,1167.2 804.8,1169.3 804.5,1171.3 804.1,1173.2 803.5,1174.9 802.8,1176.5 802.0,1178.0 800.9,1179.2 799.8,1180.3 798.5,1181.1 782.1,1190.7 780.7,1191.3 779.2,1191.8 777.6,1192.0 775.9,1192.1 774.2,1191.9 772.4,1191.5 770.5,1190.9 768.7,1190.1 766.8,1189.1 764.9,1188.0 763.0,1186.6 761.2,1185.1 759.4,1183.4 757.6,1181.5 756.0,1179.6 754.4,1177.5 752.9,1175.3 751.5,1173.0 750.2,1170.7 749.1,1168.3 748.1,1165.9 747.2,1163.4 746.5,1161.0 745.9,1158.6 745.5,1156.2 745.2,1153.9" fill="#fff" stroke="#000" stroke-width="2.9" stroke-linejoin="round"/>
<ellipse cx="766.8" cy="1164.2" rx="21.83" ry="12.60" transform="rotate(60 766.8 1164.2)" fill="#fff" stroke="#000" stroke-width="3.4"/>
<polygon points="746.2,1164.2 746.2,1163.2 746.3,1162.2 746.5,1161.3 746.8,1160.5 747.2,1159.7 747.6,1159.0 748.0,1158.4 748.6,1157.9 749.2,1157.5 759.5,1151.6 760.2,1151.3 760.9,1151.0 761.6,1150.9 762.4,1150.9 763.3,1151.0 764.1,1151.2 765.0,1151.5 765.9,1151.8 766.8,1152.3 767.7,1152.9 768.6,1153.5 769.4,1154.2 770.3,1155.1 771.1,1155.9 771.9,1156.9 772.7,1157.9 773.4,1158.9 774.0,1160.0 774.7,1161.1 775.2,1162.2 775.7,1163.4 776.1,1164.5 776.4,1165.7 776.7,1166.9 776.9,1168.0 777.0,1169.1 777.1,1170.1 777.0,1171.1 776.9,1172.1 776.7,1173.0 776.4,1173.8 776.1,1174.6 775.7,1175.3 775.2,1175.9 774.7,1176.4 774.0,1176.8 763.8,1182.7 763.1,1183.1 762.4,1183.3 761.6,1183.4 760.8,1183.4 760.0,1183.3 759.1,1183.1 758.3,1182.9 757.4,1182.5 756.5,1182.0 755.6,1181.4 754.7,1180.8 753.8,1180.1 753.0,1179.3 752.1,1178.4 751.3,1177.4 750.6,1176.5 749.9,1175.4 749.2,1174.3 748.6,1173.2 748.0,1172.1 747.6,1170.9 747.2,1169.8 746.8,1168.6 746.5,1167.5 746.3,1166.3 746.2,1165.2" fill="#fff" stroke="#000" stroke-width="2.9" stroke-linejoin="round"/>
<ellipse cx="756.5" cy="1170.1" rx="12.37" ry="7.14" transform="rotate(60 756.5 1170.1)" fill="#fff" stroke="#000" stroke-width="2.6"/>
<polygon points="829.3,1184.0 840.8,1167.6 852.8,1160.7 875.7,1174.0 887.2,1203.6 875.7,1220.0 863.7,1226.9 840.8,1213.6" fill="#fff" stroke="#000" stroke-width="2.9" stroke-linejoin="round"/>
<path d="M887.2,1203.6L875.2,1210.5" stroke="#000" stroke-width="2.4"/>
<path d="M875.7,1174.0L863.7,1180.9" stroke="#000" stroke-width="2.4"/>
<path d="M852.8,1160.7L840.8,1167.6" stroke="#000" stroke-width="2.4"/>
<path d="M841.3,1177.1L829.3,1184.0" stroke="#000" stroke-width="2.4"/>
<path d="M852.8,1206.7L840.8,1213.6" stroke="#000" stroke-width="2.4"/>
<path d="M875.7,1220.0L863.7,1226.9" stroke="#000" stroke-width="2.4"/>
<polygon points="875.2,1210.5 863.7,1180.9 840.8,1167.6 829.3,1184.0 840.8,1213.6 863.7,1226.9" fill="none" stroke="#000" stroke-width="2.4" stroke-linejoin="round"/>
<polygon points="819.3,1192.1 819.3,1190.0 819.6,1188.0 820.0,1186.2 820.5,1184.5 821.2,1183.0 822.1,1181.6 823.1,1180.4 824.2,1179.3 825.4,1178.5 841.4,1169.2 842.8,1168.6 844.2,1168.1 845.8,1167.9 847.4,1167.9 849.1,1168.0 850.8,1168.4 852.6,1169.0 854.4,1169.8 856.2,1170.7 858.1,1171.9 859.9,1173.2 861.7,1174.7 863.4,1176.3 865.1,1178.1 866.7,1180.0 868.3,1182.1 869.7,1184.2 871.1,1186.4 872.3,1188.7 873.4,1191.0 874.4,1193.3 875.3,1195.7 876.0,1198.1 876.5,1200.4 876.9,1202.7 877.2,1204.9 877.2,1207.1 877.2,1209.1 876.9,1211.1 876.5,1212.9 876.0,1214.6 875.3,1216.2 874.4,1217.6 873.4,1218.8 872.3,1219.8 871.1,1220.7 855.1,1229.9 853.7,1230.6 852.3,1231.0 850.8,1231.3 849.1,1231.3 847.4,1231.1 845.7,1230.8 843.9,1230.2 842.1,1229.4 840.3,1228.4 838.4,1227.3 836.6,1226.0 834.8,1224.5 833.1,1222.8 831.4,1221.0 829.8,1219.1 828.2,1217.1 826.8,1215.0 825.4,1212.8 824.2,1210.5 823.1,1208.2 822.1,1205.8 821.2,1203.5 820.5,1201.1 820.0,1198.8 819.6,1196.5 819.3,1194.2" fill="#fff" stroke="#000" stroke-width="2.9" stroke-linejoin="round"/>
<ellipse cx="840.3" cy="1204.2" rx="21.21" ry="12.25" transform="rotate(60 840.3 1204.2)" fill="#fff" stroke="#000" stroke-width="3.4"/>
<polygon points="820.3,1204.2 820.3,1203.2 820.4,1202.3 820.6,1201.4 820.9,1200.6 821.2,1199.9 821.6,1199.2 822.1,1198.6 822.6,1198.1 823.2,1197.7 833.2,1192.0 833.8,1191.6 834.5,1191.4 835.3,1191.3 836.0,1191.3 836.8,1191.4 837.7,1191.6 838.5,1191.8 839.4,1192.2 840.3,1192.7 841.1,1193.2 842.0,1193.8 842.8,1194.5 843.7,1195.3 844.5,1196.2 845.3,1197.1 846.0,1198.1 846.7,1199.1 847.3,1200.1 847.9,1201.2 848.4,1202.3 848.9,1203.4 849.3,1204.5 849.6,1205.7 849.9,1206.8 850.1,1207.9 850.2,1208.9 850.3,1210.0 850.2,1211.0 850.1,1211.9 849.9,1212.8 849.6,1213.6 849.3,1214.3 848.9,1215.0 848.4,1215.5 847.9,1216.0 847.3,1216.4 837.3,1222.2 836.7,1222.5 836.0,1222.7 835.3,1222.9 834.5,1222.9 833.7,1222.8 832.8,1222.6 832.0,1222.3 831.1,1222.0 830.3,1221.5 829.4,1221.0 828.5,1220.3 827.7,1219.6 826.8,1218.8 826.0,1218.0 825.3,1217.1 824.5,1216.1 823.8,1215.1 823.2,1214.1 822.6,1213.0 822.1,1211.9 821.6,1210.7 821.2,1209.6 820.9,1208.5 820.6,1207.4 820.4,1206.3 820.3,1205.2" fill="#fff" stroke="#000" stroke-width="2.9" stroke-linejoin="round"/>
<ellipse cx="830.3" cy="1210" rx="12.02" ry="6.94" transform="rotate(60 830.3 1210)" fill="#fff" stroke="#000" stroke-width="2.6"/>
<polygon points="902.6,1226.3 914.3,1209.6 926.5,1202.6 949.9,1216.1 961.6,1246.3 949.9,1262.9 937.7,1270.0 914.3,1256.4" fill="#fff" stroke="#000" stroke-width="2.9" stroke-linejoin="round"/>
<path d="M961.6,1246.3L949.4,1253.3" stroke="#000" stroke-width="2.4"/>
<path d="M949.9,1216.1L937.7,1223.1" stroke="#000" stroke-width="2.4"/>
<path d="M926.5,1202.6L914.3,1209.6" stroke="#000" stroke-width="2.4"/>
<path d="M914.8,1219.2L902.6,1226.3" stroke="#000" stroke-width="2.4"/>
<path d="M926.5,1249.4L914.3,1256.4" stroke="#000" stroke-width="2.4"/>
<path d="M949.9,1262.9L937.7,1270.0" stroke="#000" stroke-width="2.4"/>
<polygon points="949.4,1253.3 937.7,1223.1 914.3,1209.6 902.6,1226.3 914.3,1256.4 937.7,1270.0" fill="none" stroke="#000" stroke-width="2.4" stroke-linejoin="round"/>
<polygon points="892.4,1234.5 892.5,1232.4 892.7,1230.4 893.1,1228.5 893.7,1226.8 894.4,1225.2 895.3,1223.8 896.3,1222.6 897.4,1221.5 898.7,1220.7 914.9,1211.3 916.3,1210.6 917.8,1210.2 919.4,1209.9 921.0,1209.9 922.7,1210.0 924.5,1210.4 926.3,1211.0 928.2,1211.8 930.1,1212.8 931.9,1213.9 933.8,1215.3 935.6,1216.8 937.4,1218.5 939.1,1220.3 940.7,1222.2 942.3,1224.3 943.8,1226.5 945.2,1228.7 946.4,1231.0 947.6,1233.4 948.6,1235.8 949.4,1238.2 950.1,1240.6 950.7,1243.0 951.1,1245.3 951.3,1247.6 951.4,1249.8 951.3,1251.9 951.1,1253.9 950.7,1255.7 950.1,1257.5 949.4,1259.1 948.6,1260.5 947.6,1261.7 946.4,1262.8 945.2,1263.6 928.9,1273.0 927.5,1273.7 926.0,1274.1 924.5,1274.4 922.8,1274.4 921.1,1274.2 919.3,1273.9 917.5,1273.3 915.6,1272.5 913.8,1271.5 911.9,1270.3 910.1,1269.0 908.2,1267.5 906.5,1265.8 904.7,1264.0 903.1,1262.0 901.5,1260.0 900.0,1257.8 898.7,1255.6 897.4,1253.3 896.3,1250.9 895.3,1248.5 894.4,1246.1 893.7,1243.7 893.1,1241.3 892.7,1239.0 892.5,1236.7" fill="#fff" stroke="#000" stroke-width="2.9" stroke-linejoin="round"/>
<ellipse cx="913.8" cy="1246.8" rx="21.58" ry="12.46" transform="rotate(60 913.8 1246.8)" fill="#fff" stroke="#000" stroke-width="3.4"/>
<polygon points="893.4,1246.8 893.5,1245.8 893.6,1244.9 893.8,1244.0 894.0,1243.2 894.4,1242.4 894.8,1241.8 895.3,1241.2 895.8,1240.7 896.4,1240.3 906.6,1234.4 907.2,1234.1 907.9,1233.8 908.7,1233.7 909.5,1233.7 910.3,1233.8 911.1,1234.0 912.0,1234.2 912.9,1234.6 913.8,1235.1 914.7,1235.6 915.5,1236.3 916.4,1237.0 917.3,1237.8 918.1,1238.7 918.9,1239.6 919.6,1240.6 920.3,1241.6 921.0,1242.7 921.6,1243.8 922.1,1244.9 922.6,1246.1 923.0,1247.2 923.3,1248.3 923.6,1249.5 923.8,1250.6 923.9,1251.7 923.9,1252.7 923.9,1253.7 923.8,1254.7 923.6,1255.6 923.3,1256.4 923.0,1257.1 922.6,1257.8 922.1,1258.4 921.6,1258.9 921.0,1259.3 910.8,1265.2 910.1,1265.5 909.4,1265.7 908.7,1265.8 907.9,1265.8 907.1,1265.8 906.2,1265.6 905.4,1265.3 904.5,1264.9 903.6,1264.5 902.7,1263.9 901.8,1263.3 901.0,1262.5 900.1,1261.7 899.3,1260.9 898.5,1260.0 897.8,1259.0 897.1,1257.9 896.4,1256.9 895.8,1255.8 895.3,1254.6 894.8,1253.5 894.4,1252.4 894.0,1251.2 893.8,1250.1 893.6,1249.0 893.5,1247.9" fill="#fff" stroke="#000" stroke-width="2.9" stroke-linejoin="round"/>
<ellipse cx="903.6" cy="1252.7" rx="12.23" ry="7.06" transform="rotate(60 903.6 1252.7)" fill="#fff" stroke="#000" stroke-width="2.6"/>
<path d="M390.8,301.1L559,204L609.7,233.1L441.1,328L390.8,301.1Z" fill="#5F9FC0" stroke="#000" stroke-width="2.9"/>
<path d="M390.8,301.1L441.1,328L441.1,512.1L390.8,484.4L390.8,301.1Z" fill="#5F9FC0" stroke="#000" stroke-width="2.9"/>
<path d="M441.1,328L609.7,233.1L609.7,428.1L509.1,484.4L460,511L441.1,512.5L441.1,328Z" fill="#5F9FC0" stroke="#000" stroke-width="2.9"/>
<ellipse cx="525.7" cy="378.6" rx="77.16" ry="44.55" transform="rotate(-60 525.7 378.6)" fill="none" stroke="#000" stroke-width="3"/>
<ellipse cx="525.2" cy="378.6" rx="72.87" ry="42.07" transform="rotate(-60 525.2 378.6)" fill="none" stroke="#000" stroke-width="1.8"/>
<ellipse cx="522.7" cy="377.8" rx="67.36" ry="38.89" transform="rotate(-60 522.7 377.8)" fill="#000" stroke="#000" stroke-width="0.5"/>
<ellipse cx="523.9" cy="378" rx="61.23" ry="35.35" transform="rotate(-60 523.9 378)" fill="#5F9FC0" stroke="#000" stroke-width="0"/>
<ellipse cx="523.2" cy="378.1" rx="57.56" ry="33.23" transform="rotate(-60 523.2 378.1)" fill="none" stroke="#000" stroke-width="1.5"/>
<ellipse cx="519.7" cy="375.4" rx="44.09" ry="25.46" transform="rotate(-60 519.7 375.4)" fill="#000" stroke="#000" stroke-width="0.5"/>
<ellipse cx="521.7" cy="375.8" rx="37.97" ry="21.92" transform="rotate(-60 521.7 375.8)" fill="none" stroke="#5F9FC0" stroke-width="1.2"/>
<ellipse cx="517" cy="374.3" rx="28.78" ry="16.62" transform="rotate(-60 517 374.3)" fill="#5F9FC0" stroke="#000" stroke-width="0"/>
<ellipse cx="517.7" cy="374.8" rx="31.23" ry="18.03" transform="rotate(-60 517.7 374.8)" fill="none" stroke="#000" stroke-width="1.4"/>
<polygon points="570.4,282.8 581.9,253.3 604.8,240.0 616.8,246.9 628.2,263.2 616.8,292.8 593.8,306.0 581.9,299.1" fill="#BF9262" stroke="#000" stroke-width="2.9" stroke-linejoin="round"/>
<path d="M570.4,282.8L582.4,289.7" stroke="#000" stroke-width="2.4"/>
<path d="M581.9,253.3L593.8,260.2" stroke="#000" stroke-width="2.4"/>
<path d="M604.8,240.0L616.8,246.9" stroke="#000" stroke-width="2.4"/>
<path d="M616.3,256.3L628.2,263.2" stroke="#000" stroke-width="2.4"/>
<path d="M604.8,285.9L616.8,292.8" stroke="#000" stroke-width="2.4"/>
<path d="M581.9,299.1L593.8,306.0" stroke="#000" stroke-width="2.4"/>
<polygon points="582.4,289.7 593.8,260.2 616.8,246.9 628.2,263.2 616.8,292.8 593.8,306.0" fill="none" stroke="#000" stroke-width="2.4" stroke-linejoin="round"/>
<polygon points="580.4,286.2 580.5,284.1 580.7,281.9 581.1,279.6 581.7,277.3 582.4,274.9 583.2,272.5 584.2,270.2 585.3,267.9 586.5,265.6 587.9,263.4 589.3,261.3 590.9,259.3 592.5,257.4 594.2,255.6 595.9,254.0 597.7,252.5 599.5,251.2 601.3,250.0 603.1,249.1 604.9,248.3 606.7,247.7 608.5,247.3 610.2,247.2 611.8,247.2 613.3,247.5 614.8,247.9 616.1,248.5 632.0,257.7 633.3,258.6 634.4,259.6 635.4,260.8 636.2,262.2 636.9,263.8 637.5,265.4 637.8,267.3 638.1,269.2 638.2,271.3 638.1,273.4 637.8,275.7 637.5,278.0 636.9,280.3 636.2,282.6 635.4,285.0 634.4,287.3 633.3,289.6 632.0,291.9 630.7,294.1 629.2,296.2 627.7,298.2 626.1,300.2 624.4,301.9 622.7,303.6 620.9,305.1 619.1,306.4 617.2,307.5 615.4,308.5 613.6,309.2 611.8,309.8 610.1,310.2 608.4,310.4 606.8,310.3 605.3,310.1 603.8,309.6 602.5,309.0 586.5,299.8 585.3,298.9 584.2,297.9 583.2,296.7 582.4,295.3 581.7,293.8 581.1,292.1 580.7,290.3 580.5,288.3" fill="#BF9262" stroke="#000" stroke-width="2.9" stroke-linejoin="round"/>
<ellipse cx="617.2" cy="283.4" rx="21.13" ry="12.20" transform="rotate(-60 617.2 283.4)" fill="#BF7B2F" stroke="#000" stroke-width="3.4"/>
<polygon points="607.3,289.1 607.3,288.1 607.4,287.0 607.6,285.9 607.9,284.8 608.2,283.7 608.6,282.6 609.1,281.5 609.6,280.4 610.2,279.3 610.8,278.3 611.5,277.2 612.3,276.3 613.0,275.4 613.8,274.5 614.7,273.7 615.5,273.0 616.4,272.4 617.2,271.9 618.1,271.4 619.0,271.0 619.8,270.8 620.7,270.6 621.5,270.5 622.2,270.5 623.0,270.6 623.7,270.9 624.3,271.2 634.3,276.9 634.8,277.3 635.4,277.8 635.8,278.4 636.2,279.0 636.6,279.8 636.8,280.6 637.0,281.5 637.1,282.4 637.2,283.4 637.1,284.4 637.0,285.4 636.8,286.5 636.6,287.6 636.2,288.8 635.8,289.9 635.4,291.0 634.8,292.1 634.3,293.2 633.6,294.2 632.9,295.2 632.2,296.2 631.4,297.1 630.6,298.0 629.8,298.7 628.9,299.4 628.1,300.1 627.2,300.6 626.3,301.1 625.5,301.4 624.6,301.7 623.8,301.9 623.0,302.0 622.2,302.0 621.5,301.8 620.8,301.6 620.2,301.3 610.2,295.6 609.6,295.2 609.1,294.7 608.6,294.1 608.2,293.4 607.9,292.7 607.6,291.9 607.4,291.0 607.3,290.1" fill="#BF7B2F" stroke="#000" stroke-width="2.9" stroke-linejoin="round"/>
<ellipse cx="627.2" cy="289.1" rx="11.97" ry="6.91" transform="rotate(-60 627.2 289.1)" fill="#BF7B2F" stroke="#000" stroke-width="2.6"/>
<polygon points="444.5,356.7 455.3,328.8 477.0,316.3 488.3,322.8 499.1,338.2 488.3,366.2 466.6,378.7 455.3,372.1" fill="#BF9262" stroke="#000" stroke-width="2.9" stroke-linejoin="round"/>
<path d="M444.5,356.7L455.8,363.3" stroke="#000" stroke-width="2.4"/>
<path d="M455.3,328.8L466.6,335.3" stroke="#000" stroke-width="2.4"/>
<path d="M477.0,316.3L488.3,322.8" stroke="#000" stroke-width="2.4"/>
<path d="M487.8,331.7L499.1,338.2" stroke="#000" stroke-width="2.4"/>
<path d="M477.0,359.6L488.3,366.2" stroke="#000" stroke-width="2.4"/>
<path d="M455.3,372.1L466.6,378.7" stroke="#000" stroke-width="2.4"/>
<polygon points="455.8,363.3 466.6,335.3 488.3,322.8 499.1,338.2 488.3,366.2 466.6,378.7" fill="none" stroke="#000" stroke-width="2.4" stroke-linejoin="round"/>
<polygon points="453.9,360.0 454.0,358.0 454.2,355.9 454.6,353.7 455.1,351.5 455.7,349.3 456.5,347.0 457.5,344.8 458.5,342.6 459.7,340.5 461.0,338.4 462.3,336.4 463.8,334.5 465.3,332.7 466.9,331.0 468.6,329.5 470.2,328.1 471.9,326.8 473.7,325.7 475.4,324.8 477.1,324.1 478.8,323.5 480.4,323.2 482.0,323.0 483.6,323.1 485.0,323.3 486.4,323.7 487.7,324.3 502.7,333.0 503.9,333.8 505.0,334.8 505.9,336.0 506.7,337.3 507.3,338.7 507.9,340.3 508.2,342.1 508.5,343.9 508.5,345.9 508.5,347.9 508.2,350.0 507.9,352.2 507.3,354.4 506.7,356.6 505.9,358.8 505.0,361.0 503.9,363.2 502.7,365.3 501.5,367.4 500.1,369.4 498.6,371.3 497.1,373.1 495.5,374.8 493.9,376.4 492.2,377.8 490.5,379.0 488.7,380.1 487.0,381.0 485.3,381.8 483.6,382.3 482.0,382.6 480.4,382.8 478.9,382.8 477.4,382.5 476.0,382.1 474.8,381.5 459.7,372.8 458.5,372.0 457.5,371.0 456.5,369.9 455.7,368.6 455.1,367.1 454.6,365.5 454.2,363.8 454.0,361.9" fill="#BF9262" stroke="#000" stroke-width="2.9" stroke-linejoin="round"/>
<ellipse cx="488.7" cy="357.3" rx="19.98" ry="11.54" transform="rotate(-60 488.7 357.3)" fill="#BF7B2F" stroke="#000" stroke-width="3.4"/>
<polygon points="479.3,362.7 479.4,361.7 479.5,360.7 479.6,359.7 479.9,358.7 480.2,357.6 480.6,356.5 481.0,355.5 481.5,354.4 482.1,353.4 482.7,352.4 483.3,351.5 484.0,350.6 484.8,349.7 485.5,348.9 486.3,348.2 487.1,347.5 487.9,346.9 488.7,346.4 489.6,346.0 490.4,345.6 491.2,345.4 492.0,345.2 492.7,345.1 493.5,345.1 494.2,345.2 494.8,345.4 495.4,345.7 504.8,351.2 505.4,351.6 505.9,352.0 506.3,352.6 506.7,353.2 507.0,353.9 507.3,354.6 507.4,355.5 507.6,356.3 507.6,357.3 507.6,358.2 507.4,359.2 507.3,360.3 507.0,361.3 506.7,362.4 506.3,363.4 505.9,364.5 505.4,365.5 504.8,366.6 504.2,367.5 503.6,368.5 502.9,369.4 502.1,370.3 501.4,371.1 500.6,371.8 499.8,372.5 499.0,373.1 498.2,373.6 497.3,374.0 496.5,374.4 495.7,374.6 494.9,374.8 494.2,374.9 493.5,374.9 492.8,374.7 492.1,374.5 491.5,374.2 482.1,368.8 481.5,368.4 481.0,368.0 480.6,367.4 480.2,366.8 479.9,366.1 479.6,365.3 479.5,364.5 479.4,363.6" fill="#BF7B2F" stroke="#000" stroke-width="2.9" stroke-linejoin="round"/>
<ellipse cx="498.2" cy="362.7" rx="11.32" ry="6.54" transform="rotate(-60 498.2 362.7)" fill="#BF7B2F" stroke="#000" stroke-width="2.6"/>
<polygon points="570.4,431.6 581.9,402.1 604.8,388.8 616.8,395.7 628.2,412.0 616.8,441.6 593.8,454.8 581.9,447.9" fill="#BF9262" stroke="#000" stroke-width="2.9" stroke-linejoin="round"/>
<path d="M570.4,431.6L582.4,438.5" stroke="#000" stroke-width="2.4"/>
<path d="M581.9,402.1L593.8,409.0" stroke="#000" stroke-width="2.4"/>
<path d="M604.8,388.8L616.8,395.7" stroke="#000" stroke-width="2.4"/>
<path d="M616.3,405.1L628.2,412.0" stroke="#000" stroke-width="2.4"/>
<path d="M604.8,434.7L616.8,441.6" stroke="#000" stroke-width="2.4"/>
<path d="M581.9,447.9L593.8,454.8" stroke="#000" stroke-width="2.4"/>
<polygon points="582.4,438.5 593.8,409.0 616.8,395.7 628.2,412.0 616.8,441.6 593.8,454.8" fill="none" stroke="#000" stroke-width="2.4" stroke-linejoin="round"/>
<polygon points="580.4,435.0 580.5,432.9 580.7,430.7 581.1,428.4 581.7,426.1 582.4,423.7 583.2,421.3 584.2,419.0 585.3,416.7 586.5,414.4 587.9,412.2 589.3,410.1 590.9,408.1 592.5,406.2 594.2,404.4 595.9,402.8 597.7,401.3 599.5,400.0 601.3,398.8 603.1,397.9 604.9,397.1 606.7,396.5 608.5,396.1 610.2,396.0 611.8,396.0 613.3,396.3 614.8,396.7 616.1,397.3 632.0,406.5 633.3,407.4 634.4,408.4 635.4,409.6 636.2,411.0 636.9,412.6 637.5,414.2 637.8,416.1 638.1,418.0 638.2,420.1 638.1,422.2 637.8,424.5 637.5,426.8 636.9,429.1 636.2,431.4 635.4,433.8 634.4,436.1 633.3,438.4 632.0,440.7 630.7,442.9 629.2,445.0 627.7,447.0 626.1,449.0 624.4,450.7 622.7,452.4 620.9,453.9 619.1,455.2 617.2,456.3 615.4,457.3 613.6,458.0 611.8,458.6 610.1,459.0 608.4,459.2 606.8,459.1 605.3,458.9 603.8,458.4 602.5,457.8 586.5,448.6 585.3,447.7 584.2,446.7 583.2,445.5 582.4,444.1 581.7,442.6 581.1,440.9 580.7,439.1 580.5,437.1" fill="#BF9262" stroke="#000" stroke-width="2.9" stroke-linejoin="round"/>
<ellipse cx="617.2" cy="432.2" rx="21.13" ry="12.20" transform="rotate(-60 617.2 432.2)" fill="#BF7B2F" stroke="#000" stroke-width="3.4"/>
<polygon points="607.3,437.9 607.3,436.9 607.4,435.8 607.6,434.7 607.9,433.6 608.2,432.5 608.6,431.4 609.1,430.3 609.6,429.2 610.2,428.1 610.8,427.1 611.5,426.0 612.3,425.1 613.0,424.2 613.8,423.3 614.7,422.5 615.5,421.8 616.4,421.2 617.2,420.7 618.1,420.2 619.0,419.8 619.8,419.6 620.7,419.4 621.5,419.3 622.2,419.3 623.0,419.4 623.7,419.7 624.3,420.0 634.3,425.7 634.8,426.1 635.4,426.6 635.8,427.2 636.2,427.8 636.6,428.6 636.8,429.4 637.0,430.3 637.1,431.2 637.2,432.2 637.1,433.2 637.0,434.2 636.8,435.3 636.6,436.4 636.2,437.6 635.8,438.7 635.4,439.8 634.8,440.9 634.3,442.0 633.6,443.0 632.9,444.0 632.2,445.0 631.4,445.9 630.6,446.8 629.8,447.5 628.9,448.2 628.1,448.9 627.2,449.4 626.3,449.9 625.5,450.2 624.6,450.5 623.8,450.7 623.0,450.8 622.2,450.8 621.5,450.6 620.8,450.4 620.2,450.1 610.2,444.4 609.6,444.0 609.1,443.5 608.6,442.9 608.2,442.2 607.9,441.5 607.6,440.7 607.4,439.8 607.3,438.9" fill="#BF7B2F" stroke="#000" stroke-width="2.9" stroke-linejoin="round"/>
<ellipse cx="627.2" cy="437.9" rx="11.97" ry="6.91" transform="rotate(-60 627.2 437.9)" fill="#BF7B2F" stroke="#000" stroke-width="2.6"/>
<polygon points="443.8,504.4 455.1,475.1 477.9,461.9 489.8,468.8 501.1,485.0 489.8,514.3 467.0,527.4 455.1,520.6" fill="#BF9262" stroke="#000" stroke-width="2.9" stroke-linejoin="round"/>
<path d="M443.8,504.4L455.6,511.2" stroke="#000" stroke-width="2.4"/>
<path d="M455.1,475.1L467.0,481.9" stroke="#000" stroke-width="2.4"/>
<path d="M477.9,461.9L489.8,468.8" stroke="#000" stroke-width="2.4"/>
<path d="M489.3,478.1L501.1,485.0" stroke="#000" stroke-width="2.4"/>
<path d="M477.9,507.4L489.8,514.3" stroke="#000" stroke-width="2.4"/>
<path d="M455.1,520.6L467.0,527.4" stroke="#000" stroke-width="2.4"/>
<polygon points="455.6,511.2 467.0,481.9 489.8,468.8 501.1,485.0 489.8,514.3 467.0,527.4" fill="none" stroke="#000" stroke-width="2.4" stroke-linejoin="round"/>
<polygon points="453.7,507.8 453.7,505.7 454.0,503.5 454.4,501.2 454.9,498.9 455.6,496.6 456.4,494.2 457.4,491.9 458.5,489.6 459.7,487.3 461.1,485.2 462.5,483.0 464.0,481.0 465.7,479.1 467.3,477.4 469.1,475.8 470.8,474.3 472.6,473.0 474.4,471.8 476.2,470.9 478.0,470.1 479.8,469.5 481.5,469.2 483.2,469.0 484.8,469.0 486.3,469.3 487.8,469.7 489.1,470.4 505.0,479.5 506.2,480.4 507.3,481.4 508.3,482.6 509.1,483.9 509.8,485.5 510.3,487.2 510.7,489.0 511.0,490.9 511.0,493.0 511.0,495.1 510.7,497.3 510.3,499.6 509.8,501.9 509.1,504.2 508.3,506.6 507.3,508.9 506.2,511.2 505.0,513.4 503.6,515.6 502.2,517.7 500.7,519.7 499.0,521.6 497.4,523.4 495.6,525.0 493.9,526.5 492.1,527.8 490.3,529.0 488.5,529.9 486.7,530.7 484.9,531.2 483.2,531.6 481.5,531.8 479.9,531.7 478.3,531.5 476.9,531.1 475.6,530.4 459.7,521.3 458.5,520.4 457.4,519.4 456.4,518.2 455.6,516.8 454.9,515.3 454.4,513.6 454.0,511.8 453.7,509.9" fill="#BF9262" stroke="#000" stroke-width="2.9" stroke-linejoin="round"/>
<ellipse cx="490.3" cy="505" rx="20.99" ry="12.12" transform="rotate(-60 490.3 505)" fill="#BF7B2F" stroke="#000" stroke-width="3.4"/>
<polygon points="480.4,510.7 480.4,509.7 480.5,508.6 480.7,507.5 481.0,506.4 481.3,505.3 481.7,504.2 482.2,503.1 482.7,502.0 483.3,500.9 483.9,499.9 484.6,498.9 485.3,497.9 486.1,497.0 486.9,496.2 487.7,495.4 488.5,494.7 489.4,494.1 490.3,493.5 491.1,493.1 492.0,492.7 492.8,492.4 493.6,492.3 494.4,492.2 495.2,492.2 495.9,492.3 496.6,492.5 497.3,492.8 507.2,498.6 507.7,499.0 508.3,499.4 508.7,500.0 509.1,500.7 509.5,501.4 509.7,502.2 509.9,503.1 510.0,504.0 510.1,505.0 510.0,506.0 509.9,507.0 509.7,508.1 509.5,509.2 509.1,510.3 508.7,511.4 508.3,512.5 507.7,513.6 507.2,514.7 506.5,515.8 505.8,516.8 505.1,517.7 504.3,518.6 503.5,519.5 502.7,520.2 501.9,520.9 501.0,521.6 500.2,522.1 499.3,522.6 498.4,522.9 497.6,523.2 496.8,523.4 496.0,523.4 495.2,523.4 494.5,523.3 493.8,523.1 493.2,522.8 483.3,517.1 482.7,516.7 482.2,516.2 481.7,515.6 481.3,515.0 481.0,514.2 480.7,513.4 480.5,512.6 480.4,511.6" fill="#BF7B2F" stroke="#000" stroke-width="2.9" stroke-linejoin="round"/>
<ellipse cx="500.2" cy="510.7" rx="11.89" ry="6.87" transform="rotate(-60 500.2 510.7)" fill="#BF7B2F" stroke="#000" stroke-width="2.6"/>
<ellipse cx="1813" cy="1120.2" rx="26.94" ry="15.56" transform="rotate(-60 1813 1120.2)" fill="#000" stroke="#000" stroke-width="2.6"/>
<ellipse cx="1818" cy="1123.2" rx="26.94" ry="15.56" transform="rotate(-60 1818 1123.2)" fill="#BF9262" stroke="#000" stroke-width="2.6"/>
<ellipse cx="1827" cy="1128.2" rx="23.27" ry="13.43" transform="rotate(-60 1827 1128.2)" fill="#BF9262" stroke="#000" stroke-width="2.6"/>
<ellipse cx="1938.5" cy="1040.5" rx="26.94" ry="15.56" transform="rotate(-60 1938.5 1040.5)" fill="#000" stroke="#000" stroke-width="2.6"/>
<ellipse cx="1943.5" cy="1043.5" rx="26.94" ry="15.56" transform="rotate(-60 1943.5 1043.5)" fill="#BF9262" stroke="#000" stroke-width="2.6"/>
<ellipse cx="1952.5" cy="1048.5" rx="23.27" ry="13.43" transform="rotate(-60 1952.5 1048.5)" fill="#BF9262" stroke="#000" stroke-width="2.6"/>
<path d="M1823,1128.2L1827.1,1126.2L1990.3,1030L2003.4,1038L2004.4,1039L1836.1,1135.5L1823,1143.2L1823,1128.2Z" fill="#5F9FC0" stroke="#000" stroke-width="2.9"/>
<path d="M1827.1,1126.2L1840.1,1133.2L2004.4,1039" fill="none" stroke="#000" stroke-width="2.9"/>
<polygon points="2023.8,1265.2 2023.9,1263.3 2024.1,1261.3 2024.4,1259.2 2024.9,1257.1 2025.6,1254.9 2026.3,1252.8 2027.2,1250.6 2028.2,1248.5 2029.4,1246.5 2030.6,1244.5 2031.9,1242.5 2033.3,1240.7 2034.8,1239.0 2036.3,1237.3 2037.9,1235.8 2039.5,1234.5 2041.2,1233.3 2042.8,1232.2 2044.5,1231.4 2046.1,1230.7 2047.8,1230.2 2049.4,1229.8 2050.9,1229.7 2052.4,1229.7 2053.8,1229.9 2055.1,1230.3 2056.3,1230.9 2078.8,1243.9 2080.0,1244.7 2081.0,1245.6 2081.9,1246.7 2082.6,1248.0 2083.3,1249.4 2083.8,1250.9 2084.1,1252.6 2084.3,1254.4 2084.4,1256.2 2084.3,1258.2 2084.1,1260.2 2083.8,1262.3 2083.3,1264.4 2082.6,1266.6 2081.9,1268.7 2081.0,1270.9 2080.0,1273.0 2078.8,1275.0 2077.6,1277.0 2076.3,1279.0 2074.9,1280.8 2073.4,1282.5 2071.9,1284.2 2070.3,1285.7 2068.7,1287.0 2067.0,1288.2 2065.4,1289.2 2063.7,1290.1 2062.0,1290.8 2060.4,1291.3 2058.8,1291.7 2057.3,1291.8 2055.8,1291.8 2054.4,1291.6 2053.1,1291.2 2051.9,1290.6 2029.4,1277.6 2028.2,1276.8 2027.2,1275.9 2026.3,1274.8 2025.6,1273.5 2024.9,1272.1 2024.4,1270.6 2024.1,1268.9 2023.9,1267.1" fill="#BF7B2F" stroke="#000" stroke-width="3.0" stroke-linejoin="round"/>
<polygon points="2058.6,1268.0 2066.9,1257.8 2075.1,1258.5 2075.1,1269.5 2066.9,1279.8 2058.6,1279.0" fill="#BF7B2F" stroke="#000" stroke-width="3.2" stroke-linejoin="round"/>
<path d="M2062.4,1265.2l7,4" stroke="#000" stroke-width="2.2"/>
<polygon points="1907.1,1256.5 1907.4,1249.2 1908.2,1241.6 1909.6,1233.9 1911.4,1226.0 1913.8,1218.0 1916.7,1210.0 1920.0,1202.1 1923.8,1194.2 1927.9,1186.5 1932.5,1179.0 1937.4,1171.8 1942.6,1165.0 1948.1,1158.5 1953.9,1152.5 1959.8,1146.9 1965.8,1141.9 1972.0,1137.4 1978.2,1133.5 1984.3,1130.2 1990.5,1127.6 1996.5,1125.7 2002.4,1124.4 2008.2,1123.9 2013.7,1124.0 2018.9,1124.8 2023.8,1126.3 2028.4,1128.5 2057.8,1145.5 2062.0,1148.4 2065.8,1151.9 2069.1,1156.0 2072.0,1160.7 2074.3,1165.9 2076.2,1171.7 2077.5,1177.9 2078.3,1184.5 2078.6,1191.5 2078.3,1198.8 2077.5,1206.4 2076.2,1214.1 2074.3,1222.0 2072.0,1230.0 2069.1,1238.0 2065.8,1245.9 2062.0,1253.8 2057.8,1261.5 2053.2,1269.0 2048.3,1276.2 2043.1,1283.0 2037.6,1289.5 2031.9,1295.5 2026.0,1301.1 2019.9,1306.1 2013.8,1310.6 2007.6,1314.5 2001.4,1317.8 1995.3,1320.4 1989.2,1322.3 1983.3,1323.6 1977.6,1324.1 1972.1,1324.0 1966.9,1323.2 1962.0,1321.7 1957.4,1319.5 1927.9,1302.5 1923.8,1299.6 1920.0,1296.1 1916.7,1292.0 1913.8,1287.3 1911.4,1282.1 1909.6,1276.3 1908.2,1270.1 1907.4,1263.5" fill="#5F9FC0" stroke="#000" stroke-width="2.8" stroke-linejoin="round"/>
<ellipse cx="2007.6" cy="1232.5" rx="100.43" ry="57.98" transform="rotate(-60 2007.6 1232.5)" fill="#5F9FC0" stroke="#000" stroke-width="2.4"/>
<ellipse cx="2008" cy="1232.5" rx="89.40" ry="51.62" transform="rotate(-60 2008 1232.5)" fill="none" stroke="#000" stroke-width="1.8"/>
<ellipse cx="2008.5" cy="1232.3" rx="77.16" ry="44.55" transform="rotate(-60 2008.5 1232.3)" fill="none" stroke="#000" stroke-width="3"/>
<ellipse cx="2008" cy="1232.3" rx="72.87" ry="42.07" transform="rotate(-60 2008 1232.3)" fill="none" stroke="#000" stroke-width="1.8"/>
<ellipse cx="2005.5" cy="1231.5" rx="67.36" ry="38.89" transform="rotate(-60 2005.5 1231.5)" fill="#000" stroke="#000" stroke-width="0.5"/>
<ellipse cx="2006.7" cy="1231.7" rx="61.23" ry="35.35" transform="rotate(-60 2006.7 1231.7)" fill="#5F9FC0" stroke="#000" stroke-width="0"/>
<ellipse cx="2006" cy="1231.8" rx="57.56" ry="33.23" transform="rotate(-60 2006 1231.8)" fill="none" stroke="#000" stroke-width="1.5"/>
<ellipse cx="2002.5" cy="1229.1" rx="44.09" ry="25.46" transform="rotate(-60 2002.5 1229.1)" fill="#000" stroke="#000" stroke-width="0.5"/>
<ellipse cx="2004.5" cy="1229.5" rx="37.97" ry="21.92" transform="rotate(-60 2004.5 1229.5)" fill="none" stroke="#5F9FC0" stroke-width="1.2"/>
<ellipse cx="1999.8" cy="1228" rx="28.78" ry="16.62" transform="rotate(-60 1999.8 1228)" fill="#5F9FC0" stroke="#000" stroke-width="0"/>
<ellipse cx="2000.5" cy="1228.5" rx="31.23" ry="18.03" transform="rotate(-60 2000.5 1228.5)" fill="none" stroke="#000" stroke-width="1.4"/>
<polygon points="2023.8,1116.2 2023.9,1114.3 2024.1,1112.3 2024.4,1110.2 2024.9,1108.1 2025.6,1105.9 2026.3,1103.8 2027.2,1101.6 2028.2,1099.5 2029.4,1097.5 2030.6,1095.5 2031.9,1093.5 2033.3,1091.7 2034.8,1090.0 2036.3,1088.3 2037.9,1086.8 2039.5,1085.5 2041.2,1084.3 2042.8,1083.2 2044.5,1082.4 2046.1,1081.7 2047.8,1081.2 2049.4,1080.8 2050.9,1080.7 2052.4,1080.7 2053.8,1080.9 2055.1,1081.3 2056.3,1081.9 2078.8,1094.9 2080.0,1095.7 2081.0,1096.6 2081.9,1097.7 2082.6,1099.0 2083.3,1100.4 2083.8,1101.9 2084.1,1103.6 2084.3,1105.4 2084.4,1107.2 2084.3,1109.2 2084.1,1111.2 2083.8,1113.3 2083.3,1115.4 2082.6,1117.6 2081.9,1119.7 2081.0,1121.9 2080.0,1124.0 2078.8,1126.0 2077.6,1128.0 2076.3,1130.0 2074.9,1131.8 2073.4,1133.5 2071.9,1135.2 2070.3,1136.7 2068.7,1138.0 2067.0,1139.2 2065.4,1140.2 2063.7,1141.1 2062.0,1141.8 2060.4,1142.3 2058.8,1142.7 2057.3,1142.8 2055.8,1142.8 2054.4,1142.6 2053.1,1142.2 2051.9,1141.6 2029.4,1128.6 2028.2,1127.8 2027.2,1126.9 2026.3,1125.8 2025.6,1124.5 2024.9,1123.1 2024.4,1121.6 2024.1,1119.9 2023.9,1118.1" fill="#BF7B2F" stroke="#000" stroke-width="3.0" stroke-linejoin="round"/>
<polygon points="2058.6,1119.0 2066.9,1108.8 2075.1,1109.5 2075.1,1120.5 2066.9,1130.8 2058.6,1130.0" fill="#BF7B2F" stroke="#000" stroke-width="3.2" stroke-linejoin="round"/>
<path d="M2062.4,1116.2l7,4" stroke="#000" stroke-width="2.2"/>
<polygon points="1896.8,1190.1 1896.9,1188.1 1897.1,1186.1 1897.5,1184.0 1898.0,1181.9 1898.6,1179.8 1899.4,1177.6 1900.3,1175.5 1901.3,1173.4 1902.4,1171.3 1903.6,1169.3 1905.0,1167.4 1906.4,1165.5 1907.8,1163.8 1909.4,1162.2 1911.0,1160.7 1912.6,1159.3 1914.2,1158.1 1915.9,1157.1 1917.6,1156.2 1919.2,1155.5 1920.8,1155.0 1922.4,1154.7 1923.9,1154.5 1925.4,1154.5 1926.8,1154.8 1928.1,1155.2 1929.4,1155.8 1951.9,1168.8 1953.0,1169.5 1954.0,1170.5 1954.9,1171.6 1955.7,1172.8 1956.3,1174.2 1956.8,1175.8 1957.2,1177.4 1957.4,1179.2 1957.5,1181.1 1957.4,1183.1 1957.2,1185.1 1956.8,1187.2 1956.3,1189.3 1955.7,1191.4 1954.9,1193.6 1954.0,1195.7 1953.0,1197.8 1951.9,1199.9 1950.7,1201.9 1949.3,1203.8 1947.9,1205.7 1946.5,1207.4 1944.9,1209.0 1943.3,1210.5 1941.7,1211.9 1940.1,1213.1 1938.4,1214.1 1936.7,1215.0 1935.1,1215.7 1933.5,1216.2 1931.9,1216.5 1930.4,1216.7 1928.9,1216.7 1927.5,1216.4 1926.2,1216.0 1924.9,1215.4 1902.4,1202.4 1901.3,1201.7 1900.3,1200.7 1899.4,1199.6 1898.6,1198.4 1898.0,1197.0 1897.5,1195.4 1897.1,1193.8 1896.9,1192.0" fill="#BF7B2F" stroke="#000" stroke-width="3.0" stroke-linejoin="round"/>
<polygon points="1931.7,1192.9 1939.9,1182.6 1948.2,1183.3 1948.2,1194.3 1939.9,1204.6 1931.7,1203.9" fill="#BF7B2F" stroke="#000" stroke-width="3.2" stroke-linejoin="round"/>
<path d="M1935.4,1190.1l7,4" stroke="#000" stroke-width="2.2"/>
<polygon points="1896.8,1338.2 1896.9,1336.3 1897.1,1334.3 1897.5,1332.2 1898.0,1330.1 1898.6,1327.9 1899.4,1325.8 1900.3,1323.6 1901.3,1321.5 1902.4,1319.5 1903.6,1317.5 1905.0,1315.5 1906.4,1313.7 1907.8,1312.0 1909.4,1310.3 1911.0,1308.8 1912.6,1307.5 1914.2,1306.3 1915.9,1305.2 1917.6,1304.4 1919.2,1303.7 1920.8,1303.2 1922.4,1302.8 1923.9,1302.7 1925.4,1302.7 1926.8,1302.9 1928.1,1303.3 1929.4,1303.9 1951.9,1316.9 1953.0,1317.7 1954.0,1318.6 1954.9,1319.7 1955.7,1321.0 1956.3,1322.4 1956.8,1323.9 1957.2,1325.6 1957.4,1327.4 1957.5,1329.2 1957.4,1331.2 1957.2,1333.2 1956.8,1335.3 1956.3,1337.4 1955.7,1339.6 1954.9,1341.7 1954.0,1343.9 1953.0,1346.0 1951.9,1348.0 1950.7,1350.0 1949.3,1352.0 1947.9,1353.8 1946.5,1355.5 1944.9,1357.2 1943.3,1358.7 1941.7,1360.0 1940.1,1361.2 1938.4,1362.2 1936.7,1363.1 1935.1,1363.8 1933.5,1364.3 1931.9,1364.7 1930.4,1364.8 1928.9,1364.8 1927.5,1364.6 1926.2,1364.2 1924.9,1363.6 1902.4,1350.6 1901.3,1349.8 1900.3,1348.9 1899.4,1347.8 1898.6,1346.5 1898.0,1345.1 1897.5,1343.6 1897.1,1341.9 1896.9,1340.1" fill="#BF7B2F" stroke="#000" stroke-width="3.0" stroke-linejoin="round"/>
<polygon points="1931.7,1341.0 1939.9,1330.8 1948.2,1331.5 1948.2,1342.5 1939.9,1352.8 1931.7,1352.0" fill="#BF7B2F" stroke="#000" stroke-width="3.2" stroke-linejoin="round"/>
<path d="M1935.4,1338.2l7,4" stroke="#000" stroke-width="2.2"/>
</svg>
</body></html>
